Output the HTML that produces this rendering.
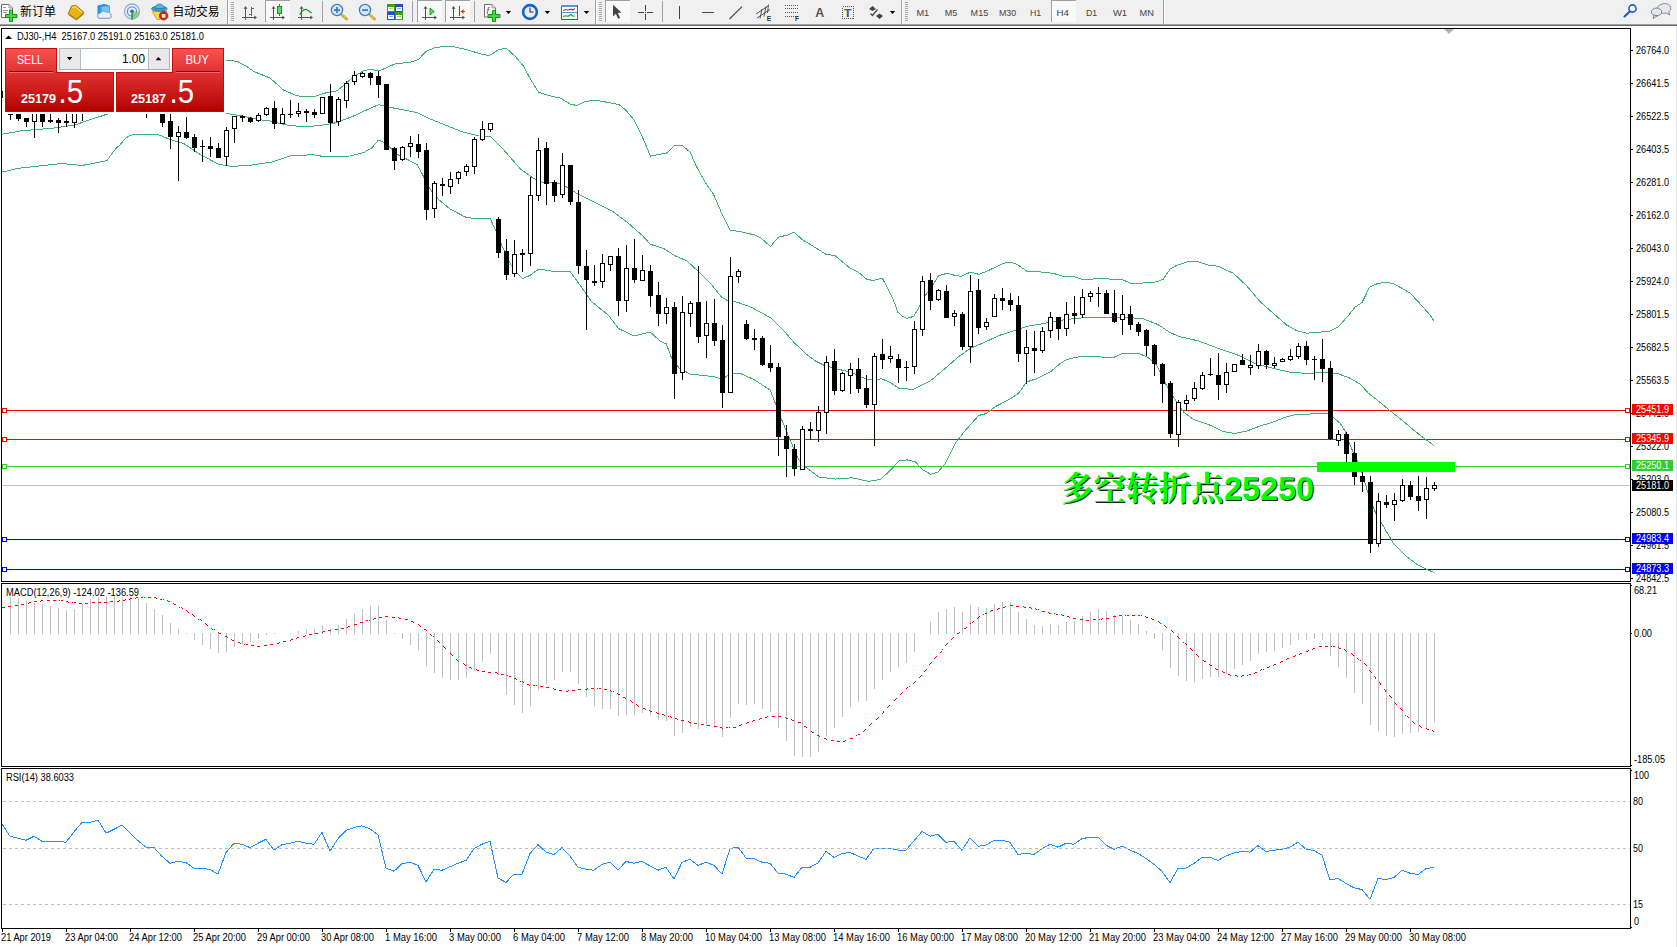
<!DOCTYPE html><html><head><meta charset="utf-8"><title>DJ30-,H4</title>
<style>html,body{margin:0;padding:0;background:#fff;overflow:hidden}svg{display:block}text{font-family:"Liberation Sans","Noto Sans CJK SC",sans-serif;}</style></head><body>
<svg width="1677" height="947" viewBox="0 0 1677 947">
<rect width="1677" height="947" fill="#fff"/>
<g shape-rendering="crispEdges">
<rect x="0" y="0" width="1677" height="24" fill="#f0f0f0"/>
<rect x="0" y="24" width="1677" height="1" fill="#a0a0a0"/>
<rect x="0" y="25" width="1677" height="1" fill="#696969"/>
<rect x="1676" y="26" width="1" height="921" fill="#e3e3e3"/>
<rect x="2" y="485" width="1628" height="1" fill="#c0c0c0"/>
<rect x="2" y="410" width="1628" height="1" fill="#ff0000"/>
<rect x="2.5" y="408.5" width="4" height="4" fill="#fff" stroke="#ff0000" stroke-width="1"/>
<rect x="1625.5" y="408.5" width="4" height="4" fill="#fff" stroke="#ff0000" stroke-width="1"/>
<rect x="2" y="439" width="1628" height="1" fill="#ff0000"/>
<rect x="2.5" y="437.5" width="4" height="4" fill="#fff" stroke="#ff0000" stroke-width="1"/>
<rect x="1625.5" y="437.5" width="4" height="4" fill="#fff" stroke="#ff0000" stroke-width="1"/>
<rect x="2" y="466" width="1628" height="1" fill="#32cd32"/>
<rect x="2.5" y="464.5" width="4" height="4" fill="#fff" stroke="#32cd32" stroke-width="1"/>
<rect x="1625.5" y="464.5" width="4" height="4" fill="#fff" stroke="#32cd32" stroke-width="1"/>
<rect x="2" y="539" width="1628" height="1" fill="#0000ff"/>
<rect x="2.5" y="537.5" width="4" height="4" fill="#fff" stroke="#0000ff" stroke-width="1"/>
<rect x="1625.5" y="537.5" width="4" height="4" fill="#fff" stroke="#0000ff" stroke-width="1"/>
<rect x="2" y="569" width="1628" height="1" fill="#0000ff"/>
<rect x="2.5" y="567.5" width="4" height="4" fill="#fff" stroke="#0000ff" stroke-width="1"/>
<rect x="1625.5" y="567.5" width="4" height="4" fill="#fff" stroke="#0000ff" stroke-width="1"/>
</g>
<g shape-rendering="crispEdges">
<clipPath id="cm"><rect x="2" y="29" width="1628" height="552"/></clipPath>
<g clip-path="url(#cm)">
<polyline points="226.0,60.0 232.0,60.5 238.0,61.8 246.0,66.0 254.0,71.6 262.0,74.8 270.0,78.0 283.4,90.0 297.5,95.9 313.4,97.0 323.4,93.4 336.8,90.9 345.0,84.2 353.5,76.7 363.5,70.9 370.0,69.2 378.5,70.9 380.0,70.6 395.0,63.9 410.0,62.2 418.4,59.7 425.9,51.4 435.1,47.7 446.8,46.0 453.5,46.7 466.8,49.7 481.9,54.2 489.4,55.6 498.6,49.7 506.1,48.0 515.3,56.4 523.6,66.4 530.3,78.9 538.6,92.3 547.0,95.1 560.3,98.1 570.3,104.0 577.0,105.6 585.4,101.5 595.4,100.1 607.1,102.3 618.8,104.5 625.5,109.8 633.8,119.8 642.2,136.5 650.5,156.2 660.0,154.1 666.3,153.4 674.6,145.4 682.0,145.4 690.1,152.0 696.5,166.6 705.3,182.4 713.6,194.5 721.8,213.5 730.0,230.2 739.5,231.5 754.8,235.0 761.1,238.2 770.6,246.4 778.2,237.3 787.7,235.0 794.0,232.2 802.9,240.1 811.9,245.5 826.3,254.5 834.6,255.4 850.1,268.2 857.3,271.5 866.8,279.2 872.8,280.5 882.3,278.1 888.3,289.7 893.1,299.2 897.9,312.3 902.6,316.5 906.8,318.5 914.0,316.2 919.3,306.4 925.3,295.6 932.5,285.5 938.4,275.9 946.8,273.3 953.9,275.1 961.1,276.3 970.6,272.1 979.0,274.4 990.2,269.7 1003.5,263.3 1010.2,262.0 1016.9,264.2 1026.9,271.2 1038.6,271.7 1053.6,273.4 1065.3,277.0 1073.7,276.4 1082.0,279.5 1100.4,278.7 1122.1,279.5 1130.4,283.1 1142.1,283.1 1155.5,282.0 1160.0,280.6 1163.3,279.2 1170.0,269.2 1176.7,265.4 1186.7,262.0 1196.7,261.4 1208.4,265.0 1218.4,266.4 1233.5,273.4 1246.8,285.9 1260.2,301.8 1273.5,313.5 1286.9,325.2 1296.9,330.7 1306.9,333.2 1318.6,332.3 1330.3,331.0 1338.7,326.5 1348.7,315.1 1355.4,306.8 1362.0,302.6 1369.5,287.3 1377.1,283.7 1385.4,282.2 1393.8,283.7 1402.1,288.4 1410.5,293.4 1420.5,304.3 1428.8,313.5 1433.8,320.6" fill="none" stroke="#3cb371" stroke-width="1"/>
<polyline points="2.1,134.2 21.5,130.8 53.7,128.1 75.1,124.9 85.9,121.1 107.3,114.1 130.0,108.0 160.0,106.0 190.0,108.0 210.0,111.0 226.0,113.4 242.0,116.0 260.0,119.8 270.0,121.0 286.7,125.0 303.4,126.8 320.0,125.6 336.8,122.6 353.5,116.0 370.0,108.4 378.5,104.7 387.0,106.7 403.6,110.0 417.0,112.6 428.6,118.4 445.3,125.0 462.0,131.8 478.7,136.0 490.4,136.2 503.8,150.0 520.5,169.0 533.8,178.6 543.8,182.9 553.6,182.6 562.0,184.3 577.0,193.4 595.3,202.6 612.0,211.0 628.7,223.5 636.0,230.0 642.0,235.2 650.3,244.3 663.5,248.4 675.2,255.9 686.9,260.9 696.9,270.1 711.9,285.1 721.9,297.6 727.8,300.6 737.0,302.1 752.0,307.6 770.4,317.7 783.2,330.1 794.5,343.0 806.2,353.9 815.3,360.9 823.6,365.1 837.0,369.0 852.0,372.3 860.4,376.8 868.7,379.8 882.0,378.9 890.4,382.6 898.8,388.3 913.6,389.4 930.0,381.1 945.1,368.5 958.4,356.9 970.1,348.5 983.5,342.7 1000.2,335.1 1016.9,329.8 1026.9,326.3 1041.9,323.8 1058.6,320.6 1075.3,318.4 1092.0,317.3 1108.7,317.3 1125.4,317.6 1142.1,318.4 1155.5,323.5 1160.0,325.8 1170.0,332.5 1180.0,336.7 1198.4,340.9 1218.4,348.4 1240.1,355.9 1256.8,364.2 1273.5,368.4 1290.2,372.3 1306.9,373.4 1327.0,372.3 1337.0,373.4 1348.7,377.6 1360.4,384.3 1368.7,393.5 1380.4,402.7 1390.4,411.0 1402.1,420.2 1413.8,430.2 1425.5,439.4 1433.8,445.4" fill="none" stroke="#3cb371" stroke-width="1"/>
<polyline points="2.5,172.0 17.0,168.5 62.0,163.5 82.0,165.5 107.0,160.7 113.0,152.0 117.0,147.5 120.2,144.7 124.5,139.3 128.8,136.1 134.2,134.2 155.6,134.2 161.0,135.6 169.6,139.3 183.7,143.5 200.0,154.3 218.7,164.4 232.0,166.4 250.5,165.2 267.0,162.7 270.0,162.7 280.0,159.3 291.7,155.5 313.4,154.8 323.4,156.5 350.0,156.0 363.5,152.7 371.9,147.7 378.5,140.1 385.2,142.7 397.0,154.3 407.0,159.3 417.0,164.4 422.0,173.5 428.5,187.0 438.4,199.3 450.0,209.0 465.0,216.9 471.8,218.2 490.0,218.2 496.0,231.0 501.8,245.2 510.2,263.6 517.7,273.6 522.7,278.6 530.2,275.3 538.6,269.1 552.0,271.1 570.3,272.0 575.3,278.6 580.0,285.1 591.7,301.8 608.4,315.2 618.4,328.5 634.3,336.0 650.1,331.9 660.2,341.2 666.3,343.9 671.8,358.5 679.2,368.1 690.1,374.0 706.0,375.8 715.3,377.0 721.5,379.5 727.7,375.6 733.5,373.1 740.1,373.4 753.5,379.3 770.2,390.1 776.0,405.1 781.9,420.2 790.2,440.2 798.6,459.4 805.3,466.9 818.6,476.9 835.3,479.1 852.0,477.8 868.7,481.4 880.4,479.4 890.4,470.3 898.8,461.1 907.1,459.9 915.5,461.9 922.1,469.4 931.0,474.4 938.0,471.9 945.6,463.0 955.7,442.7 964.6,431.3 978.5,415.5 986.2,413.6 995.7,406.4 1010.2,399.0 1018.5,393.3 1026.7,381.9 1036.9,378.6 1050.3,371.9 1060.3,363.5 1067.0,359.4 1080.3,356.4 1097.0,356.9 1113.7,357.4 1122.1,353.5 1138.8,353.5 1147.1,356.9 1155.5,363.5 1162.1,375.2 1165.0,382.6 1170.0,391.8 1176.7,401.8 1183.4,411.8 1193.4,419.4 1210.1,425.2 1223.4,431.5 1235.1,433.5 1246.8,431.0 1260.2,426.0 1273.5,421.9 1285.2,417.2 1296.9,414.3 1310.3,414.0 1327.0,413.2 1333.6,417.7 1340.3,423.5 1345.0,431.0 1350.0,445.0 1356.8,460.0 1362.6,474.2 1367.6,491.8 1375.1,511.8 1381.8,523.5 1393.5,543.5 1406.9,556.9 1416.9,564.4 1426.9,569.4 1433.6,572.3" fill="none" stroke="#3cb371" stroke-width="1"/>
</g></g>
<g shape-rendering="crispEdges">
<rect x="2" y="91" width="1" height="7" fill="#000"/>
<rect x="10" y="114" width="1" height="6" fill="#000"/>
<rect x="8" y="114" width="5" height="1" fill="#000"/>
<rect x="18" y="104" width="1" height="17" fill="#000"/>
<rect x="16" y="106" width="5" height="13" fill="#000"/>
<rect x="26" y="118" width="1" height="9" fill="#000"/>
<rect x="24" y="118" width="5" height="4" fill="#000"/>
<rect x="34" y="104" width="1" height="34" fill="#000"/>
<rect x="32" y="106" width="5" height="16" fill="#000"/>
<rect x="33" y="107" width="3" height="14" fill="#fff"/>
<rect x="42" y="104" width="1" height="23" fill="#000"/>
<rect x="40" y="106" width="5" height="16" fill="#000"/>
<rect x="50" y="108" width="1" height="15" fill="#000"/>
<rect x="48" y="120" width="5" height="2" fill="#000"/>
<rect x="58" y="118" width="1" height="15" fill="#000"/>
<rect x="56" y="120" width="5" height="3" fill="#000"/>
<rect x="66" y="108" width="1" height="19" fill="#000"/>
<rect x="64" y="121" width="5" height="2" fill="#000"/>
<rect x="74" y="104" width="1" height="24" fill="#000"/>
<rect x="72" y="106" width="5" height="17" fill="#000"/>
<rect x="73" y="107" width="3" height="15" fill="#fff"/>
<rect x="82" y="100" width="1" height="21" fill="#000"/>
<rect x="80" y="100" width="5" height="8" fill="#000"/>
<rect x="81" y="101" width="3" height="6" fill="#fff"/>
<rect x="146" y="105" width="1" height="13" fill="#000"/>
<rect x="144" y="106" width="5" height="1" fill="#000"/>
<rect x="162" y="100" width="1" height="27" fill="#000"/>
<rect x="160" y="105" width="5" height="18" fill="#000"/>
<rect x="170" y="105" width="1" height="44" fill="#000"/>
<rect x="168" y="121" width="5" height="16" fill="#000"/>
<rect x="178" y="126" width="1" height="55" fill="#000"/>
<rect x="176" y="132" width="5" height="5" fill="#000"/>
<rect x="177" y="133" width="3" height="3" fill="#fff"/>
<rect x="186" y="117" width="1" height="22" fill="#000"/>
<rect x="184" y="132" width="5" height="6" fill="#000"/>
<rect x="194" y="134" width="1" height="18" fill="#000"/>
<rect x="192" y="137" width="5" height="11" fill="#000"/>
<rect x="202" y="140" width="1" height="22" fill="#000"/>
<rect x="200" y="146" width="5" height="1" fill="#000"/>
<rect x="210" y="137" width="1" height="20" fill="#000"/>
<rect x="208" y="146" width="5" height="3" fill="#000"/>
<rect x="218" y="143" width="1" height="15" fill="#000"/>
<rect x="216" y="148" width="5" height="10" fill="#000"/>
<rect x="226" y="127" width="1" height="39" fill="#000"/>
<rect x="224" y="130" width="5" height="27" fill="#000"/>
<rect x="225" y="131" width="3" height="25" fill="#fff"/>
<rect x="234" y="116" width="1" height="27" fill="#000"/>
<rect x="232" y="116" width="5" height="13" fill="#000"/>
<rect x="233" y="117" width="3" height="11" fill="#fff"/>
<rect x="242" y="115" width="1" height="7" fill="#000"/>
<rect x="240" y="116" width="5" height="2" fill="#000"/>
<rect x="250" y="117" width="1" height="6" fill="#000"/>
<rect x="248" y="118" width="5" height="4" fill="#000"/>
<rect x="258" y="113" width="1" height="9" fill="#000"/>
<rect x="256" y="115" width="5" height="6" fill="#000"/>
<rect x="257" y="116" width="3" height="4" fill="#fff"/>
<rect x="266" y="107" width="1" height="9" fill="#000"/>
<rect x="264" y="108" width="5" height="7" fill="#000"/>
<rect x="265" y="109" width="3" height="5" fill="#fff"/>
<rect x="274" y="101" width="1" height="28" fill="#000"/>
<rect x="272" y="108" width="5" height="16" fill="#000"/>
<rect x="282" y="108" width="1" height="16" fill="#000"/>
<rect x="280" y="114" width="5" height="10" fill="#000"/>
<rect x="281" y="115" width="3" height="8" fill="#fff"/>
<rect x="290" y="100" width="1" height="18" fill="#000"/>
<rect x="288" y="114" width="5" height="1" fill="#000"/>
<rect x="298" y="103" width="1" height="14" fill="#000"/>
<rect x="296" y="111" width="5" height="3" fill="#000"/>
<rect x="297" y="112" width="3" height="1" fill="#fff"/>
<rect x="306" y="109" width="1" height="13" fill="#000"/>
<rect x="304" y="111" width="5" height="2" fill="#000"/>
<rect x="314" y="109" width="1" height="9" fill="#000"/>
<rect x="312" y="112" width="5" height="3" fill="#000"/>
<rect x="322" y="97" width="1" height="17" fill="#000"/>
<rect x="320" y="97" width="5" height="17" fill="#000"/>
<rect x="321" y="98" width="3" height="15" fill="#fff"/>
<rect x="330" y="84" width="1" height="68" fill="#000"/>
<rect x="328" y="96" width="5" height="27" fill="#000"/>
<rect x="338" y="97" width="1" height="29" fill="#000"/>
<rect x="336" y="99" width="5" height="23" fill="#000"/>
<rect x="337" y="100" width="3" height="21" fill="#fff"/>
<rect x="346" y="81" width="1" height="27" fill="#000"/>
<rect x="344" y="83" width="5" height="18" fill="#000"/>
<rect x="345" y="84" width="3" height="16" fill="#fff"/>
<rect x="354" y="71" width="1" height="14" fill="#000"/>
<rect x="352" y="75" width="5" height="7" fill="#000"/>
<rect x="353" y="76" width="3" height="5" fill="#fff"/>
<rect x="362" y="72" width="1" height="6" fill="#000"/>
<rect x="360" y="73" width="5" height="4" fill="#000"/>
<rect x="361" y="74" width="3" height="2" fill="#fff"/>
<rect x="370" y="72" width="1" height="13" fill="#000"/>
<rect x="368" y="73" width="5" height="5" fill="#000"/>
<rect x="378" y="71" width="1" height="27" fill="#000"/>
<rect x="376" y="76" width="5" height="9" fill="#000"/>
<rect x="386" y="84" width="1" height="66" fill="#000"/>
<rect x="384" y="84" width="5" height="66" fill="#000"/>
<rect x="394" y="147" width="1" height="23" fill="#000"/>
<rect x="392" y="148" width="5" height="13" fill="#000"/>
<rect x="402" y="146" width="1" height="15" fill="#000"/>
<rect x="400" y="147" width="5" height="13" fill="#000"/>
<rect x="401" y="148" width="3" height="11" fill="#fff"/>
<rect x="410" y="136" width="1" height="21" fill="#000"/>
<rect x="408" y="143" width="5" height="4" fill="#000"/>
<rect x="409" y="144" width="3" height="2" fill="#fff"/>
<rect x="418" y="134" width="1" height="24" fill="#000"/>
<rect x="416" y="144" width="5" height="8" fill="#000"/>
<rect x="426" y="143" width="1" height="77" fill="#000"/>
<rect x="424" y="150" width="5" height="60" fill="#000"/>
<rect x="434" y="181" width="1" height="37" fill="#000"/>
<rect x="432" y="183" width="5" height="26" fill="#000"/>
<rect x="433" y="184" width="3" height="24" fill="#fff"/>
<rect x="442" y="178" width="1" height="18" fill="#000"/>
<rect x="440" y="184" width="5" height="2" fill="#000"/>
<rect x="450" y="172" width="1" height="22" fill="#000"/>
<rect x="448" y="179" width="5" height="8" fill="#000"/>
<rect x="449" y="180" width="3" height="6" fill="#fff"/>
<rect x="458" y="171" width="1" height="13" fill="#000"/>
<rect x="456" y="172" width="5" height="7" fill="#000"/>
<rect x="457" y="173" width="3" height="5" fill="#fff"/>
<rect x="466" y="164" width="1" height="12" fill="#000"/>
<rect x="464" y="166" width="5" height="6" fill="#000"/>
<rect x="465" y="167" width="3" height="4" fill="#fff"/>
<rect x="474" y="137" width="1" height="37" fill="#000"/>
<rect x="472" y="139" width="5" height="28" fill="#000"/>
<rect x="473" y="140" width="3" height="26" fill="#fff"/>
<rect x="482" y="121" width="1" height="20" fill="#000"/>
<rect x="480" y="129" width="5" height="11" fill="#000"/>
<rect x="481" y="130" width="3" height="9" fill="#fff"/>
<rect x="490" y="123" width="1" height="9" fill="#000"/>
<rect x="488" y="123" width="5" height="7" fill="#000"/>
<rect x="489" y="124" width="3" height="5" fill="#fff"/>
<rect x="498" y="217" width="1" height="41" fill="#000"/>
<rect x="496" y="219" width="5" height="34" fill="#000"/>
<rect x="506" y="239" width="1" height="41" fill="#000"/>
<rect x="504" y="251" width="5" height="24" fill="#000"/>
<rect x="514" y="240" width="1" height="37" fill="#000"/>
<rect x="512" y="254" width="5" height="20" fill="#000"/>
<rect x="513" y="255" width="3" height="18" fill="#fff"/>
<rect x="522" y="249" width="1" height="23" fill="#000"/>
<rect x="520" y="253" width="5" height="2" fill="#000"/>
<rect x="530" y="177" width="1" height="89" fill="#000"/>
<rect x="528" y="195" width="5" height="59" fill="#000"/>
<rect x="529" y="196" width="3" height="57" fill="#fff"/>
<rect x="538" y="138" width="1" height="63" fill="#000"/>
<rect x="536" y="150" width="5" height="46" fill="#000"/>
<rect x="537" y="151" width="3" height="44" fill="#fff"/>
<rect x="546" y="142" width="1" height="63" fill="#000"/>
<rect x="544" y="148" width="5" height="36" fill="#000"/>
<rect x="554" y="180" width="1" height="22" fill="#000"/>
<rect x="552" y="182" width="5" height="14" fill="#000"/>
<rect x="562" y="153" width="1" height="45" fill="#000"/>
<rect x="560" y="165" width="5" height="30" fill="#000"/>
<rect x="561" y="166" width="3" height="28" fill="#fff"/>
<rect x="570" y="165" width="1" height="40" fill="#000"/>
<rect x="568" y="165" width="5" height="37" fill="#000"/>
<rect x="578" y="190" width="1" height="84" fill="#000"/>
<rect x="576" y="202" width="5" height="64" fill="#000"/>
<rect x="586" y="250" width="1" height="80" fill="#000"/>
<rect x="584" y="266" width="5" height="14" fill="#000"/>
<rect x="594" y="265" width="1" height="21" fill="#000"/>
<rect x="592" y="281" width="5" height="2" fill="#000"/>
<rect x="602" y="254" width="1" height="34" fill="#000"/>
<rect x="600" y="263" width="5" height="19" fill="#000"/>
<rect x="601" y="264" width="3" height="17" fill="#fff"/>
<rect x="610" y="256" width="1" height="15" fill="#000"/>
<rect x="608" y="256" width="5" height="9" fill="#000"/>
<rect x="609" y="257" width="3" height="7" fill="#fff"/>
<rect x="618" y="248" width="1" height="68" fill="#000"/>
<rect x="616" y="256" width="5" height="45" fill="#000"/>
<rect x="626" y="245" width="1" height="67" fill="#000"/>
<rect x="624" y="268" width="5" height="33" fill="#000"/>
<rect x="625" y="269" width="3" height="31" fill="#fff"/>
<rect x="634" y="239" width="1" height="44" fill="#000"/>
<rect x="632" y="268" width="5" height="12" fill="#000"/>
<rect x="642" y="255" width="1" height="26" fill="#000"/>
<rect x="640" y="270" width="5" height="11" fill="#000"/>
<rect x="641" y="271" width="3" height="9" fill="#fff"/>
<rect x="650" y="265" width="1" height="42" fill="#000"/>
<rect x="648" y="271" width="5" height="25" fill="#000"/>
<rect x="658" y="282" width="1" height="44" fill="#000"/>
<rect x="656" y="295" width="5" height="19" fill="#000"/>
<rect x="666" y="298" width="1" height="26" fill="#000"/>
<rect x="664" y="307" width="5" height="7" fill="#000"/>
<rect x="665" y="308" width="3" height="5" fill="#fff"/>
<rect x="674" y="302" width="1" height="97" fill="#000"/>
<rect x="672" y="307" width="5" height="67" fill="#000"/>
<rect x="682" y="296" width="1" height="84" fill="#000"/>
<rect x="680" y="312" width="5" height="61" fill="#000"/>
<rect x="681" y="313" width="3" height="59" fill="#fff"/>
<rect x="690" y="301" width="1" height="26" fill="#000"/>
<rect x="688" y="303" width="5" height="11" fill="#000"/>
<rect x="689" y="304" width="3" height="9" fill="#fff"/>
<rect x="698" y="266" width="1" height="77" fill="#000"/>
<rect x="696" y="302" width="5" height="35" fill="#000"/>
<rect x="706" y="301" width="1" height="57" fill="#000"/>
<rect x="704" y="323" width="5" height="13" fill="#000"/>
<rect x="705" y="324" width="3" height="11" fill="#fff"/>
<rect x="714" y="299" width="1" height="47" fill="#000"/>
<rect x="712" y="323" width="5" height="18" fill="#000"/>
<rect x="722" y="325" width="1" height="83" fill="#000"/>
<rect x="720" y="340" width="5" height="53" fill="#000"/>
<rect x="730" y="257" width="1" height="136" fill="#000"/>
<rect x="728" y="276" width="5" height="117" fill="#000"/>
<rect x="729" y="277" width="3" height="115" fill="#fff"/>
<rect x="738" y="269" width="1" height="14" fill="#000"/>
<rect x="736" y="271" width="5" height="6" fill="#000"/>
<rect x="737" y="272" width="3" height="4" fill="#fff"/>
<rect x="746" y="320" width="1" height="20" fill="#000"/>
<rect x="744" y="324" width="5" height="15" fill="#000"/>
<rect x="754" y="329" width="1" height="21" fill="#000"/>
<rect x="752" y="338" width="5" height="2" fill="#000"/>
<rect x="762" y="336" width="1" height="30" fill="#000"/>
<rect x="760" y="338" width="5" height="27" fill="#000"/>
<rect x="770" y="345" width="1" height="27" fill="#000"/>
<rect x="768" y="363" width="5" height="5" fill="#000"/>
<rect x="778" y="363" width="1" height="93" fill="#000"/>
<rect x="776" y="367" width="5" height="70" fill="#000"/>
<rect x="786" y="425" width="1" height="52" fill="#000"/>
<rect x="784" y="436" width="5" height="13" fill="#000"/>
<rect x="794" y="444" width="1" height="32" fill="#000"/>
<rect x="792" y="449" width="5" height="20" fill="#000"/>
<rect x="802" y="426" width="1" height="44" fill="#000"/>
<rect x="800" y="429" width="5" height="41" fill="#000"/>
<rect x="801" y="430" width="3" height="39" fill="#fff"/>
<rect x="810" y="422" width="1" height="18" fill="#000"/>
<rect x="808" y="429" width="5" height="2" fill="#000"/>
<rect x="818" y="406" width="1" height="36" fill="#000"/>
<rect x="816" y="412" width="5" height="19" fill="#000"/>
<rect x="817" y="413" width="3" height="17" fill="#fff"/>
<rect x="826" y="356" width="1" height="78" fill="#000"/>
<rect x="824" y="362" width="5" height="51" fill="#000"/>
<rect x="825" y="363" width="3" height="49" fill="#fff"/>
<rect x="834" y="349" width="1" height="46" fill="#000"/>
<rect x="832" y="361" width="5" height="30" fill="#000"/>
<rect x="842" y="372" width="1" height="20" fill="#000"/>
<rect x="840" y="373" width="5" height="18" fill="#000"/>
<rect x="841" y="374" width="3" height="16" fill="#fff"/>
<rect x="850" y="363" width="1" height="31" fill="#000"/>
<rect x="848" y="369" width="5" height="7" fill="#000"/>
<rect x="849" y="370" width="3" height="5" fill="#fff"/>
<rect x="858" y="358" width="1" height="35" fill="#000"/>
<rect x="856" y="369" width="5" height="20" fill="#000"/>
<rect x="866" y="375" width="1" height="33" fill="#000"/>
<rect x="864" y="388" width="5" height="17" fill="#000"/>
<rect x="874" y="353" width="1" height="93" fill="#000"/>
<rect x="872" y="356" width="5" height="49" fill="#000"/>
<rect x="873" y="357" width="3" height="47" fill="#fff"/>
<rect x="882" y="339" width="1" height="30" fill="#000"/>
<rect x="880" y="354" width="5" height="6" fill="#000"/>
<rect x="890" y="346" width="1" height="17" fill="#000"/>
<rect x="888" y="356" width="5" height="3" fill="#000"/>
<rect x="889" y="357" width="3" height="1" fill="#fff"/>
<rect x="898" y="354" width="1" height="29" fill="#000"/>
<rect x="896" y="359" width="5" height="9" fill="#000"/>
<rect x="906" y="361" width="1" height="20" fill="#000"/>
<rect x="904" y="367" width="5" height="1" fill="#000"/>
<rect x="914" y="321" width="1" height="53" fill="#000"/>
<rect x="912" y="329" width="5" height="38" fill="#000"/>
<rect x="913" y="330" width="3" height="36" fill="#fff"/>
<rect x="922" y="276" width="1" height="60" fill="#000"/>
<rect x="920" y="281" width="5" height="49" fill="#000"/>
<rect x="921" y="282" width="3" height="47" fill="#fff"/>
<rect x="930" y="273" width="1" height="37" fill="#000"/>
<rect x="928" y="280" width="5" height="21" fill="#000"/>
<rect x="938" y="289" width="1" height="12" fill="#000"/>
<rect x="936" y="290" width="5" height="10" fill="#000"/>
<rect x="937" y="291" width="3" height="8" fill="#fff"/>
<rect x="946" y="285" width="1" height="33" fill="#000"/>
<rect x="944" y="291" width="5" height="27" fill="#000"/>
<rect x="954" y="310" width="1" height="16" fill="#000"/>
<rect x="952" y="313" width="5" height="4" fill="#000"/>
<rect x="953" y="314" width="3" height="2" fill="#fff"/>
<rect x="962" y="312" width="1" height="38" fill="#000"/>
<rect x="960" y="314" width="5" height="33" fill="#000"/>
<rect x="970" y="275" width="1" height="88" fill="#000"/>
<rect x="968" y="291" width="5" height="56" fill="#000"/>
<rect x="969" y="292" width="3" height="54" fill="#fff"/>
<rect x="978" y="279" width="1" height="55" fill="#000"/>
<rect x="976" y="290" width="5" height="38" fill="#000"/>
<rect x="986" y="318" width="1" height="12" fill="#000"/>
<rect x="984" y="322" width="5" height="5" fill="#000"/>
<rect x="985" y="323" width="3" height="3" fill="#fff"/>
<rect x="994" y="294" width="1" height="23" fill="#000"/>
<rect x="992" y="298" width="5" height="19" fill="#000"/>
<rect x="993" y="299" width="3" height="17" fill="#fff"/>
<rect x="1002" y="288" width="1" height="22" fill="#000"/>
<rect x="1000" y="298" width="5" height="3" fill="#000"/>
<rect x="1010" y="293" width="1" height="18" fill="#000"/>
<rect x="1008" y="300" width="5" height="5" fill="#000"/>
<rect x="1018" y="296" width="1" height="66" fill="#000"/>
<rect x="1016" y="305" width="5" height="49" fill="#000"/>
<rect x="1026" y="330" width="1" height="54" fill="#000"/>
<rect x="1024" y="347" width="5" height="7" fill="#000"/>
<rect x="1025" y="348" width="3" height="5" fill="#fff"/>
<rect x="1034" y="331" width="1" height="42" fill="#000"/>
<rect x="1032" y="348" width="5" height="3" fill="#000"/>
<rect x="1042" y="327" width="1" height="26" fill="#000"/>
<rect x="1040" y="331" width="5" height="20" fill="#000"/>
<rect x="1041" y="332" width="3" height="18" fill="#fff"/>
<rect x="1050" y="312" width="1" height="26" fill="#000"/>
<rect x="1048" y="317" width="5" height="14" fill="#000"/>
<rect x="1049" y="318" width="3" height="12" fill="#fff"/>
<rect x="1058" y="317" width="1" height="23" fill="#000"/>
<rect x="1056" y="317" width="5" height="12" fill="#000"/>
<rect x="1066" y="302" width="1" height="34" fill="#000"/>
<rect x="1064" y="314" width="5" height="15" fill="#000"/>
<rect x="1065" y="315" width="3" height="13" fill="#fff"/>
<rect x="1074" y="296" width="1" height="28" fill="#000"/>
<rect x="1072" y="313" width="5" height="3" fill="#000"/>
<rect x="1082" y="289" width="1" height="29" fill="#000"/>
<rect x="1080" y="297" width="5" height="18" fill="#000"/>
<rect x="1081" y="298" width="3" height="16" fill="#fff"/>
<rect x="1090" y="291" width="1" height="11" fill="#000"/>
<rect x="1088" y="293" width="5" height="4" fill="#000"/>
<rect x="1089" y="294" width="3" height="2" fill="#fff"/>
<rect x="1098" y="287" width="1" height="20" fill="#000"/>
<rect x="1096" y="293" width="5" height="1" fill="#000"/>
<rect x="1106" y="290" width="1" height="24" fill="#000"/>
<rect x="1104" y="293" width="5" height="21" fill="#000"/>
<rect x="1114" y="290" width="1" height="33" fill="#000"/>
<rect x="1112" y="313" width="5" height="9" fill="#000"/>
<rect x="1122" y="295" width="1" height="40" fill="#000"/>
<rect x="1120" y="314" width="5" height="6" fill="#000"/>
<rect x="1121" y="315" width="3" height="4" fill="#fff"/>
<rect x="1130" y="306" width="1" height="24" fill="#000"/>
<rect x="1128" y="314" width="5" height="11" fill="#000"/>
<rect x="1138" y="322" width="1" height="14" fill="#000"/>
<rect x="1136" y="324" width="5" height="8" fill="#000"/>
<rect x="1146" y="329" width="1" height="27" fill="#000"/>
<rect x="1144" y="330" width="5" height="16" fill="#000"/>
<rect x="1154" y="344" width="1" height="32" fill="#000"/>
<rect x="1152" y="345" width="5" height="19" fill="#000"/>
<rect x="1162" y="363" width="1" height="40" fill="#000"/>
<rect x="1160" y="364" width="5" height="20" fill="#000"/>
<rect x="1170" y="381" width="1" height="57" fill="#000"/>
<rect x="1168" y="383" width="5" height="51" fill="#000"/>
<rect x="1178" y="400" width="1" height="47" fill="#000"/>
<rect x="1176" y="402" width="5" height="33" fill="#000"/>
<rect x="1177" y="403" width="3" height="31" fill="#fff"/>
<rect x="1186" y="395" width="1" height="16" fill="#000"/>
<rect x="1184" y="400" width="5" height="4" fill="#000"/>
<rect x="1185" y="401" width="3" height="2" fill="#fff"/>
<rect x="1194" y="382" width="1" height="19" fill="#000"/>
<rect x="1192" y="388" width="5" height="11" fill="#000"/>
<rect x="1193" y="389" width="3" height="9" fill="#fff"/>
<rect x="1202" y="372" width="1" height="18" fill="#000"/>
<rect x="1200" y="375" width="5" height="14" fill="#000"/>
<rect x="1201" y="376" width="3" height="12" fill="#fff"/>
<rect x="1210" y="358" width="1" height="18" fill="#000"/>
<rect x="1208" y="374" width="5" height="1" fill="#000"/>
<rect x="1218" y="353" width="1" height="47" fill="#000"/>
<rect x="1216" y="375" width="5" height="10" fill="#000"/>
<rect x="1226" y="363" width="1" height="30" fill="#000"/>
<rect x="1224" y="372" width="5" height="13" fill="#000"/>
<rect x="1225" y="373" width="3" height="11" fill="#fff"/>
<rect x="1234" y="364" width="1" height="8" fill="#000"/>
<rect x="1232" y="364" width="5" height="8" fill="#000"/>
<rect x="1233" y="365" width="3" height="6" fill="#fff"/>
<rect x="1242" y="354" width="1" height="11" fill="#000"/>
<rect x="1240" y="360" width="5" height="5" fill="#000"/>
<rect x="1250" y="355" width="1" height="20" fill="#000"/>
<rect x="1248" y="365" width="5" height="3" fill="#000"/>
<rect x="1249" y="366" width="3" height="1" fill="#fff"/>
<rect x="1258" y="344" width="1" height="25" fill="#000"/>
<rect x="1256" y="351" width="5" height="15" fill="#000"/>
<rect x="1257" y="352" width="3" height="13" fill="#fff"/>
<rect x="1266" y="350" width="1" height="19" fill="#000"/>
<rect x="1264" y="351" width="5" height="14" fill="#000"/>
<rect x="1274" y="357" width="1" height="11" fill="#000"/>
<rect x="1272" y="363" width="5" height="3" fill="#000"/>
<rect x="1273" y="364" width="3" height="1" fill="#fff"/>
<rect x="1282" y="358" width="1" height="4" fill="#000"/>
<rect x="1280" y="359" width="5" height="3" fill="#000"/>
<rect x="1281" y="360" width="3" height="1" fill="#fff"/>
<rect x="1290" y="349" width="1" height="12" fill="#000"/>
<rect x="1288" y="356" width="5" height="4" fill="#000"/>
<rect x="1289" y="357" width="3" height="2" fill="#fff"/>
<rect x="1298" y="343" width="1" height="16" fill="#000"/>
<rect x="1296" y="346" width="5" height="11" fill="#000"/>
<rect x="1297" y="347" width="3" height="9" fill="#fff"/>
<rect x="1306" y="341" width="1" height="24" fill="#000"/>
<rect x="1304" y="346" width="5" height="14" fill="#000"/>
<rect x="1314" y="356" width="1" height="24" fill="#000"/>
<rect x="1312" y="359" width="5" height="1" fill="#000"/>
<rect x="1322" y="339" width="1" height="43" fill="#000"/>
<rect x="1320" y="359" width="5" height="10" fill="#000"/>
<rect x="1330" y="361" width="1" height="79" fill="#000"/>
<rect x="1328" y="368" width="5" height="71" fill="#000"/>
<rect x="1338" y="430" width="1" height="16" fill="#000"/>
<rect x="1336" y="434" width="5" height="7" fill="#000"/>
<rect x="1337" y="435" width="3" height="5" fill="#fff"/>
<rect x="1346" y="432" width="1" height="33" fill="#000"/>
<rect x="1344" y="434" width="5" height="20" fill="#000"/>
<rect x="1354" y="442" width="1" height="43" fill="#000"/>
<rect x="1352" y="453" width="5" height="24" fill="#000"/>
<rect x="1362" y="471" width="1" height="21" fill="#000"/>
<rect x="1360" y="476" width="5" height="6" fill="#000"/>
<rect x="1370" y="476" width="1" height="77" fill="#000"/>
<rect x="1368" y="482" width="5" height="62" fill="#000"/>
<rect x="1378" y="493" width="1" height="54" fill="#000"/>
<rect x="1376" y="501" width="5" height="43" fill="#000"/>
<rect x="1377" y="502" width="3" height="41" fill="#fff"/>
<rect x="1386" y="495" width="1" height="13" fill="#000"/>
<rect x="1384" y="502" width="5" height="3" fill="#000"/>
<rect x="1394" y="493" width="1" height="28" fill="#000"/>
<rect x="1392" y="500" width="5" height="5" fill="#000"/>
<rect x="1393" y="501" width="3" height="3" fill="#fff"/>
<rect x="1402" y="479" width="1" height="23" fill="#000"/>
<rect x="1400" y="485" width="5" height="16" fill="#000"/>
<rect x="1401" y="486" width="3" height="14" fill="#fff"/>
<rect x="1410" y="481" width="1" height="19" fill="#000"/>
<rect x="1408" y="485" width="5" height="12" fill="#000"/>
<rect x="1418" y="476" width="1" height="35" fill="#000"/>
<rect x="1416" y="496" width="5" height="5" fill="#000"/>
<rect x="1426" y="477" width="1" height="42" fill="#000"/>
<rect x="1424" y="488" width="5" height="12" fill="#000"/>
<rect x="1425" y="489" width="3" height="10" fill="#fff"/>
<rect x="1434" y="482" width="1" height="9" fill="#000"/>
<rect x="1432" y="485" width="5" height="4" fill="#000"/>
<rect x="1433" y="486" width="3" height="2" fill="#fff"/>
<rect x="1317" y="462" width="138" height="10" fill="#00ff00"/>
</g>
<rect x="2" y="29" width="224" height="85" fill="#fff" shape-rendering="crispEdges"/>
<rect x="2" y="91" width="1" height="7" fill="#000"/>
<text x="1062" y="501.2" font-size="32.5" font-weight="bold" fill="#0c240c" style="font-family:'Liberation Sans','Noto Serif CJK SC',serif" textLength="162.5" lengthAdjust="spacingAndGlyphs">多空转折点</text>
<text x="1225" y="500.5" font-size="33" font-weight="bold" fill="#0c240c" style="font-family:'Liberation Sans','Noto Serif CJK SC',serif" textLength="90" lengthAdjust="spacingAndGlyphs">25250</text>
<text x="1061" y="500.2" font-size="32.5" font-weight="bold" fill="#00ff00" style="font-family:'Liberation Sans','Noto Serif CJK SC',serif" textLength="162.5" lengthAdjust="spacingAndGlyphs">多空转折点</text>
<text x="1224" y="499.5" font-size="33" font-weight="bold" fill="#00ff00" style="font-family:'Liberation Sans','Noto Serif CJK SC',serif" textLength="90" lengthAdjust="spacingAndGlyphs">25250</text>
<g shape-rendering="crispEdges">
<rect x="10" y="597" width="1" height="37" fill="#c0c0c0"/>
<rect x="18" y="598" width="1" height="36" fill="#c0c0c0"/>
<rect x="26" y="601" width="1" height="33" fill="#c0c0c0"/>
<rect x="34" y="603" width="1" height="31" fill="#c0c0c0"/>
<rect x="42" y="604" width="1" height="30" fill="#c0c0c0"/>
<rect x="50" y="606" width="1" height="28" fill="#c0c0c0"/>
<rect x="58" y="608" width="1" height="26" fill="#c0c0c0"/>
<rect x="66" y="610" width="1" height="24" fill="#c0c0c0"/>
<rect x="74" y="609" width="1" height="25" fill="#c0c0c0"/>
<rect x="82" y="604" width="1" height="30" fill="#c0c0c0"/>
<rect x="90" y="599" width="1" height="35" fill="#c0c0c0"/>
<rect x="98" y="597" width="1" height="37" fill="#c0c0c0"/>
<rect x="106" y="596" width="1" height="38" fill="#c0c0c0"/>
<rect x="114" y="596" width="1" height="38" fill="#c0c0c0"/>
<rect x="122" y="597" width="1" height="37" fill="#c0c0c0"/>
<rect x="130" y="597" width="1" height="37" fill="#c0c0c0"/>
<rect x="138" y="598" width="1" height="36" fill="#c0c0c0"/>
<rect x="146" y="603" width="1" height="31" fill="#c0c0c0"/>
<rect x="154" y="609" width="1" height="25" fill="#c0c0c0"/>
<rect x="162" y="615" width="1" height="19" fill="#c0c0c0"/>
<rect x="170" y="623" width="1" height="11" fill="#c0c0c0"/>
<rect x="178" y="629" width="1" height="5" fill="#c0c0c0"/>
<rect x="186" y="633" width="1" height="1" fill="#c0c0c0"/>
<rect x="194" y="633" width="1" height="7" fill="#c0c0c0"/>
<rect x="202" y="633" width="1" height="12" fill="#c0c0c0"/>
<rect x="210" y="633" width="1" height="16" fill="#c0c0c0"/>
<rect x="218" y="633" width="1" height="20" fill="#c0c0c0"/>
<rect x="226" y="633" width="1" height="19" fill="#c0c0c0"/>
<rect x="234" y="633" width="1" height="14" fill="#c0c0c0"/>
<rect x="242" y="633" width="1" height="11" fill="#c0c0c0"/>
<rect x="250" y="633" width="1" height="9" fill="#c0c0c0"/>
<rect x="258" y="633" width="1" height="6" fill="#c0c0c0"/>
<rect x="266" y="633" width="1" height="2" fill="#c0c0c0"/>
<rect x="274" y="633" width="1" height="1" fill="#c0c0c0"/>
<rect x="290" y="633" width="1" height="1" fill="#c0c0c0"/>
<rect x="298" y="631" width="1" height="3" fill="#c0c0c0"/>
<rect x="306" y="630" width="1" height="4" fill="#c0c0c0"/>
<rect x="314" y="629" width="1" height="5" fill="#c0c0c0"/>
<rect x="322" y="625" width="1" height="9" fill="#c0c0c0"/>
<rect x="330" y="629" width="1" height="5" fill="#c0c0c0"/>
<rect x="338" y="625" width="1" height="9" fill="#c0c0c0"/>
<rect x="346" y="619" width="1" height="15" fill="#c0c0c0"/>
<rect x="354" y="614" width="1" height="20" fill="#c0c0c0"/>
<rect x="362" y="609" width="1" height="25" fill="#c0c0c0"/>
<rect x="370" y="606" width="1" height="28" fill="#c0c0c0"/>
<rect x="378" y="606" width="1" height="28" fill="#c0c0c0"/>
<rect x="386" y="620" width="1" height="14" fill="#c0c0c0"/>
<rect x="394" y="633" width="1" height="1" fill="#c0c0c0"/>
<rect x="402" y="633" width="1" height="6" fill="#c0c0c0"/>
<rect x="410" y="633" width="1" height="12" fill="#c0c0c0"/>
<rect x="418" y="633" width="1" height="17" fill="#c0c0c0"/>
<rect x="426" y="633" width="1" height="33" fill="#c0c0c0"/>
<rect x="434" y="633" width="1" height="40" fill="#c0c0c0"/>
<rect x="442" y="633" width="1" height="45" fill="#c0c0c0"/>
<rect x="450" y="633" width="1" height="47" fill="#c0c0c0"/>
<rect x="458" y="633" width="1" height="47" fill="#c0c0c0"/>
<rect x="466" y="633" width="1" height="45" fill="#c0c0c0"/>
<rect x="474" y="633" width="1" height="38" fill="#c0c0c0"/>
<rect x="482" y="633" width="1" height="29" fill="#c0c0c0"/>
<rect x="490" y="633" width="1" height="21" fill="#c0c0c0"/>
<rect x="498" y="633" width="1" height="42" fill="#c0c0c0"/>
<rect x="506" y="633" width="1" height="62" fill="#c0c0c0"/>
<rect x="514" y="633" width="1" height="72" fill="#c0c0c0"/>
<rect x="522" y="633" width="1" height="80" fill="#c0c0c0"/>
<rect x="530" y="633" width="1" height="73" fill="#c0c0c0"/>
<rect x="538" y="633" width="1" height="57" fill="#c0c0c0"/>
<rect x="546" y="633" width="1" height="51" fill="#c0c0c0"/>
<rect x="554" y="633" width="1" height="47" fill="#c0c0c0"/>
<rect x="562" y="633" width="1" height="39" fill="#c0c0c0"/>
<rect x="570" y="633" width="1" height="39" fill="#c0c0c0"/>
<rect x="578" y="633" width="1" height="51" fill="#c0c0c0"/>
<rect x="586" y="633" width="1" height="64" fill="#c0c0c0"/>
<rect x="594" y="633" width="1" height="73" fill="#c0c0c0"/>
<rect x="602" y="633" width="1" height="76" fill="#c0c0c0"/>
<rect x="610" y="633" width="1" height="76" fill="#c0c0c0"/>
<rect x="618" y="633" width="1" height="83" fill="#c0c0c0"/>
<rect x="626" y="633" width="1" height="82" fill="#c0c0c0"/>
<rect x="634" y="633" width="1" height="82" fill="#c0c0c0"/>
<rect x="642" y="633" width="1" height="80" fill="#c0c0c0"/>
<rect x="650" y="633" width="1" height="82" fill="#c0c0c0"/>
<rect x="658" y="633" width="1" height="87" fill="#c0c0c0"/>
<rect x="666" y="633" width="1" height="88" fill="#c0c0c0"/>
<rect x="674" y="633" width="1" height="103" fill="#c0c0c0"/>
<rect x="682" y="633" width="1" height="100" fill="#c0c0c0"/>
<rect x="690" y="633" width="1" height="94" fill="#c0c0c0"/>
<rect x="698" y="633" width="1" height="96" fill="#c0c0c0"/>
<rect x="706" y="633" width="1" height="93" fill="#c0c0c0"/>
<rect x="714" y="633" width="1" height="94" fill="#c0c0c0"/>
<rect x="722" y="633" width="1" height="104" fill="#c0c0c0"/>
<rect x="730" y="633" width="1" height="85" fill="#c0c0c0"/>
<rect x="738" y="633" width="1" height="71" fill="#c0c0c0"/>
<rect x="746" y="633" width="1" height="72" fill="#c0c0c0"/>
<rect x="754" y="633" width="1" height="71" fill="#c0c0c0"/>
<rect x="762" y="633" width="1" height="76" fill="#c0c0c0"/>
<rect x="770" y="633" width="1" height="79" fill="#c0c0c0"/>
<rect x="778" y="633" width="1" height="95" fill="#c0c0c0"/>
<rect x="786" y="633" width="1" height="108" fill="#c0c0c0"/>
<rect x="794" y="633" width="1" height="123" fill="#c0c0c0"/>
<rect x="802" y="633" width="1" height="124" fill="#c0c0c0"/>
<rect x="810" y="633" width="1" height="124" fill="#c0c0c0"/>
<rect x="818" y="633" width="1" height="119" fill="#c0c0c0"/>
<rect x="826" y="633" width="1" height="103" fill="#c0c0c0"/>
<rect x="834" y="633" width="1" height="95" fill="#c0c0c0"/>
<rect x="842" y="633" width="1" height="84" fill="#c0c0c0"/>
<rect x="850" y="633" width="1" height="74" fill="#c0c0c0"/>
<rect x="858" y="633" width="1" height="69" fill="#c0c0c0"/>
<rect x="866" y="633" width="1" height="68" fill="#c0c0c0"/>
<rect x="874" y="633" width="1" height="56" fill="#c0c0c0"/>
<rect x="882" y="633" width="1" height="47" fill="#c0c0c0"/>
<rect x="890" y="633" width="1" height="39" fill="#c0c0c0"/>
<rect x="898" y="633" width="1" height="34" fill="#c0c0c0"/>
<rect x="906" y="633" width="1" height="30" fill="#c0c0c0"/>
<rect x="914" y="633" width="1" height="19" fill="#c0c0c0"/>
<rect x="930" y="622" width="1" height="12" fill="#c0c0c0"/>
<rect x="938" y="612" width="1" height="22" fill="#c0c0c0"/>
<rect x="946" y="609" width="1" height="25" fill="#c0c0c0"/>
<rect x="954" y="607" width="1" height="27" fill="#c0c0c0"/>
<rect x="962" y="612" width="1" height="22" fill="#c0c0c0"/>
<rect x="970" y="605" width="1" height="29" fill="#c0c0c0"/>
<rect x="978" y="607" width="1" height="27" fill="#c0c0c0"/>
<rect x="986" y="608" width="1" height="26" fill="#c0c0c0"/>
<rect x="994" y="604" width="1" height="30" fill="#c0c0c0"/>
<rect x="1002" y="602" width="1" height="32" fill="#c0c0c0"/>
<rect x="1010" y="602" width="1" height="32" fill="#c0c0c0"/>
<rect x="1018" y="612" width="1" height="22" fill="#c0c0c0"/>
<rect x="1026" y="619" width="1" height="15" fill="#c0c0c0"/>
<rect x="1034" y="625" width="1" height="9" fill="#c0c0c0"/>
<rect x="1042" y="626" width="1" height="8" fill="#c0c0c0"/>
<rect x="1050" y="624" width="1" height="10" fill="#c0c0c0"/>
<rect x="1058" y="625" width="1" height="9" fill="#c0c0c0"/>
<rect x="1066" y="622" width="1" height="12" fill="#c0c0c0"/>
<rect x="1074" y="621" width="1" height="13" fill="#c0c0c0"/>
<rect x="1082" y="616" width="1" height="18" fill="#c0c0c0"/>
<rect x="1090" y="612" width="1" height="22" fill="#c0c0c0"/>
<rect x="1098" y="609" width="1" height="25" fill="#c0c0c0"/>
<rect x="1106" y="611" width="1" height="23" fill="#c0c0c0"/>
<rect x="1114" y="615" width="1" height="19" fill="#c0c0c0"/>
<rect x="1122" y="616" width="1" height="18" fill="#c0c0c0"/>
<rect x="1130" y="620" width="1" height="14" fill="#c0c0c0"/>
<rect x="1138" y="624" width="1" height="10" fill="#c0c0c0"/>
<rect x="1146" y="631" width="1" height="3" fill="#c0c0c0"/>
<rect x="1154" y="633" width="1" height="6" fill="#c0c0c0"/>
<rect x="1162" y="633" width="1" height="17" fill="#c0c0c0"/>
<rect x="1170" y="633" width="1" height="35" fill="#c0c0c0"/>
<rect x="1178" y="633" width="1" height="43" fill="#c0c0c0"/>
<rect x="1186" y="633" width="1" height="48" fill="#c0c0c0"/>
<rect x="1194" y="633" width="1" height="49" fill="#c0c0c0"/>
<rect x="1202" y="633" width="1" height="46" fill="#c0c0c0"/>
<rect x="1210" y="633" width="1" height="44" fill="#c0c0c0"/>
<rect x="1218" y="633" width="1" height="44" fill="#c0c0c0"/>
<rect x="1226" y="633" width="1" height="41" fill="#c0c0c0"/>
<rect x="1234" y="633" width="1" height="36" fill="#c0c0c0"/>
<rect x="1242" y="633" width="1" height="32" fill="#c0c0c0"/>
<rect x="1250" y="633" width="1" height="28" fill="#c0c0c0"/>
<rect x="1258" y="633" width="1" height="21" fill="#c0c0c0"/>
<rect x="1266" y="633" width="1" height="19" fill="#c0c0c0"/>
<rect x="1274" y="633" width="1" height="18" fill="#c0c0c0"/>
<rect x="1282" y="633" width="1" height="15" fill="#c0c0c0"/>
<rect x="1290" y="633" width="1" height="12" fill="#c0c0c0"/>
<rect x="1298" y="633" width="1" height="7" fill="#c0c0c0"/>
<rect x="1306" y="633" width="1" height="7" fill="#c0c0c0"/>
<rect x="1314" y="633" width="1" height="6" fill="#c0c0c0"/>
<rect x="1322" y="633" width="1" height="7" fill="#c0c0c0"/>
<rect x="1330" y="633" width="1" height="23" fill="#c0c0c0"/>
<rect x="1338" y="633" width="1" height="34" fill="#c0c0c0"/>
<rect x="1346" y="633" width="1" height="45" fill="#c0c0c0"/>
<rect x="1354" y="633" width="1" height="60" fill="#c0c0c0"/>
<rect x="1362" y="633" width="1" height="71" fill="#c0c0c0"/>
<rect x="1370" y="633" width="1" height="92" fill="#c0c0c0"/>
<rect x="1378" y="633" width="1" height="98" fill="#c0c0c0"/>
<rect x="1386" y="633" width="1" height="103" fill="#c0c0c0"/>
<rect x="1394" y="633" width="1" height="104" fill="#c0c0c0"/>
<rect x="1402" y="633" width="1" height="101" fill="#c0c0c0"/>
<rect x="1410" y="633" width="1" height="100" fill="#c0c0c0"/>
<rect x="1418" y="633" width="1" height="99" fill="#c0c0c0"/>
<rect x="1426" y="633" width="1" height="95" fill="#c0c0c0"/>
<rect x="1434" y="633" width="1" height="89" fill="#c0c0c0"/>
</g>
<g shape-rendering="crispEdges">
<path d="M136,597h2v1h-2zM141,597h2v1h-2zM144,597h1v1h-1zM148,597h3v1h-3zM154,597h2v1h-2zM130,598h2v1h-2zM135,598h1v1h-1zM156,598h1v1h-1zM125,599h1v1h-1zM129,599h1v1h-1zM160,599h2v1h-2zM163,599h1v1h-1zM41,600h2v1h-2zM47,600h3v1h-3zM53,600h3v1h-3zM59,600h1v1h-1zM61,600h2v1h-2zM119,600h1v1h-1zM123,600h2v1h-2zM167,600h1v1h-1zM34,601h3v1h-3zM40,601h1v1h-1zM66,601h2v1h-2zM110,601h3v1h-3zM117,601h2v1h-2zM168,601h2v1h-2zM29,602h2v1h-2zM68,602h1v1h-1zM72,602h1v1h-1zM74,602h2v1h-2zM92,602h3v1h-3zM98,602h3v1h-3zM104,602h3v1h-3zM28,603h1v1h-1zM79,603h3v1h-3zM85,603h3v1h-3zM173,603h1v1h-1zM21,604h3v1h-3zM174,604h2v1h-2zM15,605h3v1h-3zM1010,605h3v1h-3zM8,606h3v1h-3zM1005,606h1v1h-1zM1016,606h3v1h-3zM1023,606h1v1h-1zM2,607h3v1h-3zM179,607h1v1h-1zM181,607h1v1h-1zM1003,607h2v1h-2zM1024,607h2v1h-2zM1029,607h2v1h-2zM182,608h1v1h-1zM998,608h2v1h-2zM1031,608h1v1h-1zM1035,608h1v1h-1zM997,609h1v1h-1zM1036,609h1v1h-1zM1038,609h1v1h-1zM186,610h1v1h-1zM991,610h2v1h-2zM187,611h1v1h-1zM990,611h1v1h-1zM1042,611h3v1h-3zM188,612h1v1h-1zM1048,612h1v1h-1zM985,613h2v1h-2zM1049,613h2v1h-2zM1054,613h1v1h-1zM192,614h1v1h-1zM983,614h1v1h-1zM1056,614h2v1h-2zM1061,614h1v1h-1zM193,615h1v1h-1zM1062,615h2v1h-2zM1119,615h3v1h-3zM1125,615h1v1h-1zM1127,615h2v1h-2zM1132,615h3v1h-3zM1138,615h2v1h-2zM1141,615h1v1h-1zM194,616h1v1h-1zM385,616h3v1h-3zM979,616h1v1h-1zM1067,616h2v1h-2zM1113,616h3v1h-3zM1145,616h1v1h-1zM379,617h3v1h-3zM392,617h3v1h-3zM398,617h1v1h-1zM978,617h1v1h-1zM1069,617h1v1h-1zM1146,617h2v1h-2zM374,618h2v1h-2zM399,618h2v1h-2zM977,618h1v1h-1zM1073,618h3v1h-3zM1102,618h1v1h-1zM1106,618h3v1h-3zM1151,618h1v1h-1zM198,619h1v1h-1zM200,619h1v1h-1zM373,619h1v1h-1zM405,619h3v1h-3zM1080,619h3v1h-3zM1093,619h3v1h-3zM1099,619h1v1h-1zM1101,619h1v1h-1zM1152,619h2v1h-2zM201,620h1v1h-1zM366,620h2v1h-2zM369,620h1v1h-1zM1086,620h3v1h-3zM411,621h2v1h-2zM973,621h1v1h-1zM1158,621h1v1h-1zM360,622h3v1h-3zM413,622h1v1h-1zM972,622h1v1h-1zM1159,622h1v1h-1zM205,623h1v1h-1zM970,623h1v1h-1zM1160,623h1v1h-1zM206,624h1v1h-1zM354,624h3v1h-3zM418,624h1v1h-1zM207,625h1v1h-1zM419,625h1v1h-1zM1164,625h1v1h-1zM348,626h2v1h-2zM420,626h1v1h-1zM1165,626h1v1h-1zM347,627h1v1h-1zM966,627h1v1h-1zM1166,627h1v1h-1zM211,628h1v1h-1zM341,628h3v1h-3zM964,628h2v1h-2zM212,629h1v1h-1zM214,629h1v1h-1zM335,629h3v1h-3zM424,629h2v1h-2zM328,630h3v1h-3zM426,630h1v1h-1zM1171,630h1v1h-1zM323,631h2v1h-2zM1172,631h1v1h-1zM218,632h1v1h-1zM322,632h1v1h-1zM959,632h1v1h-1zM1173,632h1v1h-1zM219,633h2v1h-2zM315,633h3v1h-3zM957,633h2v1h-2zM309,634h3v1h-3zM430,634h1v1h-1zM305,635h1v1h-1zM431,635h1v1h-1zM225,636h2v1h-2zM303,636h2v1h-2zM433,636h1v1h-1zM1177,636h1v1h-1zM227,637h1v1h-1zM297,637h2v1h-2zM953,637h1v1h-1zM1178,637h1v1h-1zM296,638h1v1h-1zM952,638h1v1h-1zM1179,638h1v1h-1zM231,639h1v1h-1zM291,639h2v1h-2zM951,639h1v1h-1zM232,640h2v1h-2zM290,640h1v1h-1zM437,640h1v1h-1zM283,641h3v1h-3zM438,641h1v1h-1zM238,642h2v1h-2zM279,642h1v1h-1zM439,642h1v1h-1zM1183,642h1v1h-1zM240,643h1v1h-1zM277,643h2v1h-2zM947,643h1v1h-1zM1185,643h1v1h-1zM244,644h1v1h-1zM246,644h2v1h-2zM270,644h3v1h-3zM946,644h1v1h-1zM1186,644h1v1h-1zM251,645h3v1h-3zM264,645h3v1h-3zM945,645h1v1h-1zM257,646h3v1h-3zM443,646h1v1h-1zM1319,646h3v1h-3zM1325,646h3v1h-3zM1331,646h1v1h-1zM1333,646h2v1h-2zM444,647h1v1h-1zM1338,647h1v1h-1zM445,648h1v1h-1zM1190,648h1v1h-1zM1313,648h2v1h-2zM1339,648h2v1h-2zM942,649h1v1h-1zM1191,649h1v1h-1zM1312,649h1v1h-1zM1344,649h1v1h-1zM1192,650h1v1h-1zM1308,650h1v1h-1zM1345,650h1v1h-1zM941,651h1v1h-1zM1306,651h2v1h-2zM1346,651h1v1h-1zM940,652h1v1h-1zM450,653h1v1h-1zM1300,653h2v1h-2zM1351,653h1v1h-1zM451,654h1v1h-1zM1196,654h1v1h-1zM1299,654h1v1h-1zM1352,654h1v1h-1zM452,655h1v1h-1zM1197,655h1v1h-1zM1295,655h1v1h-1zM1353,655h1v1h-1zM936,656h1v1h-1zM1198,656h1v1h-1zM1293,656h2v1h-2zM935,657h1v1h-1zM934,658h1v1h-1zM1287,658h2v1h-2zM1357,658h1v1h-1zM456,659h1v1h-1zM1286,659h1v1h-1zM1358,659h1v1h-1zM457,660h1v1h-1zM1203,660h1v1h-1zM1360,660h1v1h-1zM458,661h1v1h-1zM1204,661h2v1h-2zM1281,661h2v1h-2zM931,662h1v1h-1zM1280,662h1v1h-1zM463,663h1v1h-1zM930,663h1v1h-1zM1364,663h1v1h-1zM464,664h1v1h-1zM929,664h1v1h-1zM1209,664h1v1h-1zM1274,664h2v1h-2zM1365,664h1v1h-1zM465,665h1v1h-1zM1210,665h2v1h-2zM1273,665h1v1h-1zM1366,665h1v1h-1zM1269,666h1v1h-1zM469,667h2v1h-2zM1267,667h2v1h-2zM471,668h1v1h-1zM1215,668h1v1h-1zM476,669h1v1h-1zM926,669h1v1h-1zM1216,669h2v1h-2zM1261,669h1v1h-1zM1263,669h1v1h-1zM477,670h2v1h-2zM925,670h1v1h-1zM1260,670h1v1h-1zM1369,670h1v1h-1zM482,671h3v1h-3zM924,671h1v1h-1zM1222,671h1v1h-1zM1370,671h1v1h-1zM488,672h3v1h-3zM495,672h2v1h-2zM1223,672h2v1h-2zM1255,672h2v1h-2zM1371,672h1v1h-1zM497,673h1v1h-1zM1254,673h1v1h-1zM501,674h3v1h-3zM1228,674h2v1h-2zM1249,674h2v1h-2zM507,675h1v1h-1zM921,675h1v1h-1zM1230,675h1v1h-1zM1235,675h2v1h-2zM1242,675h2v1h-2zM1247,675h1v1h-1zM509,676h2v1h-2zM920,676h1v1h-1zM1237,676h1v1h-1zM1241,676h1v1h-1zM1374,676h1v1h-1zM919,677h1v1h-1zM1375,677h1v1h-1zM514,678h2v1h-2zM1375,678h1v1h-1zM516,679h1v1h-1zM520,681h1v1h-1zM522,681h1v1h-1zM915,681h1v1h-1zM523,682h1v1h-1zM914,682h1v1h-1zM1379,682h1v1h-1zM913,683h1v1h-1zM1380,683h1v1h-1zM527,684h2v1h-2zM1380,684h1v1h-1zM529,685h1v1h-1zM533,685h2v1h-2zM536,685h1v1h-1zM540,686h3v1h-3zM909,686h1v1h-1zM546,687h3v1h-3zM907,687h1v1h-1zM553,688h1v1h-1zM587,688h1v1h-1zM591,688h3v1h-3zM597,688h1v1h-1zM599,688h2v1h-2zM906,688h1v1h-1zM554,689h2v1h-2zM578,689h3v1h-3zM585,689h2v1h-2zM604,689h3v1h-3zM1384,689h1v1h-1zM559,690h3v1h-3zM568,690h1v1h-1zM572,690h3v1h-3zM610,690h1v1h-1zM1385,690h1v1h-1zM566,691h2v1h-2zM611,691h1v1h-1zM613,691h1v1h-1zM1385,691h1v1h-1zM902,692h1v1h-1zM617,693h1v1h-1zM901,693h1v1h-1zM618,694h2v1h-2zM900,694h1v1h-1zM1389,695h1v1h-1zM1390,696h1v1h-1zM623,697h2v1h-2zM1391,697h1v1h-1zM625,698h1v1h-1zM896,698h1v1h-1zM895,699h1v1h-1zM630,700h1v1h-1zM894,700h1v1h-1zM631,701h1v1h-1zM632,702h1v1h-1zM1394,702h1v1h-1zM1395,703h1v1h-1zM636,704h1v1h-1zM1396,704h1v1h-1zM637,705h1v1h-1zM889,705h1v1h-1zM638,706h1v1h-1zM888,706h1v1h-1zM887,707h1v1h-1zM643,708h2v1h-2zM1400,708h1v1h-1zM645,709h1v1h-1zM1401,709h1v1h-1zM649,710h1v1h-1zM1402,710h1v1h-1zM650,711h2v1h-2zM883,711h1v1h-1zM656,712h1v1h-1zM883,712h1v1h-1zM657,713h2v1h-2zM882,713h1v1h-1zM662,714h2v1h-2zM664,715h1v1h-1zM1405,715h1v1h-1zM668,716h1v1h-1zM670,716h1v1h-1zM767,716h1v1h-1zM772,716h3v1h-3zM778,716h3v1h-3zM1407,716h1v1h-1zM671,717h1v1h-1zM765,717h2v1h-2zM785,717h1v1h-1zM878,717h1v1h-1zM1408,717h1v1h-1zM675,718h2v1h-2zM760,718h2v1h-2zM786,718h2v1h-2zM877,718h1v1h-1zM677,719h1v1h-1zM759,719h1v1h-1zM791,719h1v1h-1zM876,719h1v1h-1zM681,720h3v1h-3zM753,720h2v1h-2zM792,720h2v1h-2zM688,721h1v1h-1zM752,721h1v1h-1zM1412,721h1v1h-1zM689,722h2v1h-2zM747,722h2v1h-2zM798,722h3v1h-3zM1413,722h1v1h-1zM694,723h3v1h-3zM746,723h1v1h-1zM871,723h1v1h-1zM1414,723h1v1h-1zM701,724h3v1h-3zM741,724h1v1h-1zM870,724h1v1h-1zM707,725h3v1h-3zM739,725h2v1h-2zM869,725h1v1h-1zM1419,725h1v1h-1zM714,726h3v1h-3zM804,726h2v1h-2zM1420,726h1v1h-1zM720,727h2v1h-2zM726,727h2v1h-2zM729,727h1v1h-1zM733,727h3v1h-3zM806,727h1v1h-1zM1421,727h1v1h-1zM722,728h1v1h-1zM1426,728h1v1h-1zM865,729h1v1h-1zM1427,729h2v1h-2zM864,730h1v1h-1zM1432,730h1v1h-1zM811,731h1v1h-1zM863,731h1v1h-1zM1433,731h1v1h-1zM812,732h2v1h-2zM858,734h2v1h-2zM817,735h2v1h-2zM856,735h1v1h-1zM819,736h1v1h-1zM824,738h2v1h-2zM850,738h3v1h-3zM826,739h1v1h-1zM831,740h3v1h-3zM845,740h1v1h-1zM837,741h3v1h-3zM843,741h2v1h-2z" fill="#ff0000"/>
<polyline points="2.0,824.0 10.0,836.2 18.0,838.3 26.0,840.3 34.0,836.2 42.0,841.3 50.0,841.3 58.0,841.3 66.0,842.3 74.0,831.8 82.0,822.4 90.0,822.4 98.0,820.0 106.0,833.2 114.0,829.3 122.0,825.0 130.0,832.8 138.0,840.7 146.0,847.2 154.0,847.6 162.0,856.4 170.0,863.3 178.0,861.4 186.0,862.7 194.0,868.2 202.0,868.2 210.0,869.6 218.0,874.1 226.0,852.5 234.0,843.3 242.0,844.2 250.0,847.6 258.0,843.3 266.0,839.3 274.0,850.1 282.0,844.6 290.0,843.3 298.0,841.3 306.0,843.3 314.0,844.2 322.0,832.4 330.0,851.1 338.0,838.7 346.0,830.5 354.0,827.5 362.0,825.9 370.0,828.9 378.0,834.8 386.0,868.2 394.0,871.2 402.0,863.7 410.0,862.3 418.0,865.3 426.0,882.0 434.0,869.2 442.0,870.2 450.0,866.7 458.0,863.3 466.0,860.4 474.0,848.6 482.0,844.2 490.0,841.3 498.0,878.1 506.0,882.4 514.0,874.1 522.0,874.1 530.0,853.5 538.0,844.6 546.0,852.1 554.0,854.5 562.0,847.6 570.0,856.0 578.0,867.3 586.0,869.2 594.0,870.2 602.0,864.3 610.0,862.3 618.0,870.2 626.0,861.4 634.0,863.3 642.0,861.4 650.0,865.9 658.0,870.2 666.0,867.3 674.0,879.1 682.0,862.3 690.0,859.4 698.0,865.3 706.0,862.3 714.0,865.3 722.0,874.1 730.0,848.6 738.0,847.2 746.0,858.0 754.0,858.4 762.0,862.3 770.0,863.3 778.0,873.2 786.0,874.1 794.0,877.5 802.0,867.3 810.0,867.3 818.0,862.9 826.0,851.5 834.0,857.4 842.0,853.5 850.0,852.5 858.0,856.0 866.0,859.4 874.0,848.2 882.0,848.2 890.0,848.2 898.0,850.1 906.0,850.1 914.0,840.7 922.0,831.4 930.0,836.2 938.0,834.4 946.0,842.3 954.0,841.3 962.0,850.3 970.0,837.8 978.0,846.2 986.0,845.2 994.0,840.3 1002.0,840.3 1010.0,842.3 1018.0,854.5 1026.0,853.1 1034.0,854.5 1042.0,848.6 1050.0,844.2 1058.0,847.2 1066.0,843.3 1074.0,844.2 1082.0,838.7 1090.0,837.1 1098.0,837.1 1106.0,845.2 1114.0,849.2 1122.0,846.2 1130.0,850.1 1138.0,853.5 1146.0,858.4 1154.0,864.3 1162.0,871.2 1170.0,882.6 1178.0,868.6 1186.0,868.2 1194.0,863.3 1202.0,857.4 1210.0,857.4 1218.0,860.4 1226.0,856.0 1234.0,852.9 1242.0,851.5 1250.0,852.1 1258.0,845.6 1266.0,851.5 1274.0,850.3 1282.0,849.2 1290.0,847.2 1298.0,842.1 1306.0,849.2 1314.0,850.5 1322.0,855.1 1330.0,880.0 1338.0,878.5 1346.0,883.4 1354.0,887.9 1362.0,889.5 1370.0,899.3 1378.0,878.5 1386.0,879.5 1394.0,877.5 1402.0,870.2 1410.0,873.2 1418.0,874.5 1426.0,868.6 1434.0,867.3" fill="none" stroke="#1e90ff" stroke-width="1"/>
</g>
<g shape-rendering="crispEdges">
<line x1="3" y1="801.5" x2="1630" y2="801.5" stroke="#c0c0c0" stroke-width="1" stroke-dasharray="3,3"/>
<line x1="3" y1="848.5" x2="1630" y2="848.5" stroke="#c0c0c0" stroke-width="1" stroke-dasharray="3,3"/>
<line x1="3" y1="904.5" x2="1630" y2="904.5" stroke="#c0c0c0" stroke-width="1" stroke-dasharray="3,3"/>
<rect x="1" y="28" width="1" height="901" fill="#000"/>
<rect x="1" y="28" width="1630" height="1" fill="#000"/>
<rect x="1630" y="28" width="1" height="901" fill="#000"/>
<rect x="1" y="581" width="1630" height="1" fill="#000"/>
<rect x="1" y="583" width="1630" height="1" fill="#000"/>
<rect x="1" y="766" width="1630" height="1" fill="#000"/>
<rect x="1" y="768" width="1630" height="1" fill="#000"/>
<rect x="1" y="928" width="1630" height="1" fill="#000"/>
<rect x="0" y="582" width="1631" height="1" fill="#fff"/>
<rect x="0" y="767" width="1631" height="1" fill="#fff"/>
<rect x="1" y="582" width="1" height="1" fill="#fff"/>
<rect x="1" y="767" width="1" height="1" fill="#fff"/>
<rect x="1630" y="582" width="1" height="1" fill="#fff"/>
<rect x="1630" y="767" width="1" height="1" fill="#fff"/>
<rect x="2" y="929" width="1" height="3" fill="#000"/>
<rect x="66" y="929" width="1" height="3" fill="#000"/>
<rect x="130" y="929" width="1" height="3" fill="#000"/>
<rect x="194" y="929" width="1" height="3" fill="#000"/>
<rect x="258" y="929" width="1" height="3" fill="#000"/>
<rect x="322" y="929" width="1" height="3" fill="#000"/>
<rect x="386" y="929" width="1" height="3" fill="#000"/>
<rect x="450" y="929" width="1" height="3" fill="#000"/>
<rect x="514" y="929" width="1" height="3" fill="#000"/>
<rect x="578" y="929" width="1" height="3" fill="#000"/>
<rect x="642" y="929" width="1" height="3" fill="#000"/>
<rect x="706" y="929" width="1" height="3" fill="#000"/>
<rect x="770" y="929" width="1" height="3" fill="#000"/>
<rect x="834" y="929" width="1" height="3" fill="#000"/>
<rect x="898" y="929" width="1" height="3" fill="#000"/>
<rect x="962" y="929" width="1" height="3" fill="#000"/>
<rect x="1026" y="929" width="1" height="3" fill="#000"/>
<rect x="1090" y="929" width="1" height="3" fill="#000"/>
<rect x="1154" y="929" width="1" height="3" fill="#000"/>
<rect x="1218" y="929" width="1" height="3" fill="#000"/>
<rect x="1282" y="929" width="1" height="3" fill="#000"/>
<rect x="1346" y="929" width="1" height="3" fill="#000"/>
<rect x="1410" y="929" width="1" height="3" fill="#000"/>
<rect x="1631" y="50" width="2" height="1" fill="#000"/>
<rect x="1631" y="83" width="2" height="1" fill="#000"/>
<rect x="1631" y="116" width="2" height="1" fill="#000"/>
<rect x="1631" y="149" width="2" height="1" fill="#000"/>
<rect x="1631" y="182" width="2" height="1" fill="#000"/>
<rect x="1631" y="215" width="2" height="1" fill="#000"/>
<rect x="1631" y="248" width="2" height="1" fill="#000"/>
<rect x="1631" y="281" width="2" height="1" fill="#000"/>
<rect x="1631" y="314" width="2" height="1" fill="#000"/>
<rect x="1631" y="347" width="2" height="1" fill="#000"/>
<rect x="1631" y="380" width="2" height="1" fill="#000"/>
<rect x="1631" y="413" width="2" height="1" fill="#000"/>
<rect x="1631" y="446" width="2" height="1" fill="#000"/>
<rect x="1631" y="479" width="2" height="1" fill="#000"/>
<rect x="1631" y="512" width="2" height="1" fill="#000"/>
<rect x="1631" y="545" width="2" height="1" fill="#000"/>
<rect x="1631" y="578" width="2" height="1" fill="#000"/>
<rect x="1631" y="585" width="1" height="1" fill="#000"/>
<rect x="1631" y="633" width="1" height="1" fill="#000"/>
<rect x="1631" y="765" width="1" height="1" fill="#000"/>
<rect x="1631" y="770" width="1" height="1" fill="#000"/>
<rect x="1631" y="927" width="1" height="1" fill="#000"/>
</g>
<text x="1636" y="54" font-size="10" fill="#000" text-anchor="start" font-weight="normal" textLength="33" lengthAdjust="spacingAndGlyphs">26764.0</text>
<text x="1636" y="87" font-size="10" fill="#000" text-anchor="start" font-weight="normal" textLength="33" lengthAdjust="spacingAndGlyphs">26641.5</text>
<text x="1636" y="120" font-size="10" fill="#000" text-anchor="start" font-weight="normal" textLength="33" lengthAdjust="spacingAndGlyphs">26522.5</text>
<text x="1636" y="153" font-size="10" fill="#000" text-anchor="start" font-weight="normal" textLength="33" lengthAdjust="spacingAndGlyphs">26403.5</text>
<text x="1636" y="186" font-size="10" fill="#000" text-anchor="start" font-weight="normal" textLength="33" lengthAdjust="spacingAndGlyphs">26281.0</text>
<text x="1636" y="219" font-size="10" fill="#000" text-anchor="start" font-weight="normal" textLength="33" lengthAdjust="spacingAndGlyphs">26162.0</text>
<text x="1636" y="252" font-size="10" fill="#000" text-anchor="start" font-weight="normal" textLength="33" lengthAdjust="spacingAndGlyphs">26043.0</text>
<text x="1636" y="285" font-size="10" fill="#000" text-anchor="start" font-weight="normal" textLength="33" lengthAdjust="spacingAndGlyphs">25924.0</text>
<text x="1636" y="318" font-size="10" fill="#000" text-anchor="start" font-weight="normal" textLength="33" lengthAdjust="spacingAndGlyphs">25801.5</text>
<text x="1636" y="351" font-size="10" fill="#000" text-anchor="start" font-weight="normal" textLength="33" lengthAdjust="spacingAndGlyphs">25682.5</text>
<text x="1636" y="384" font-size="10" fill="#000" text-anchor="start" font-weight="normal" textLength="33" lengthAdjust="spacingAndGlyphs">25563.5</text>
<text x="1636" y="417" font-size="10" fill="#000" text-anchor="start" font-weight="normal" textLength="33" lengthAdjust="spacingAndGlyphs">25441.0</text>
<text x="1636" y="450" font-size="10" fill="#000" text-anchor="start" font-weight="normal" textLength="33" lengthAdjust="spacingAndGlyphs">25322.0</text>
<text x="1636" y="483" font-size="10" fill="#000" text-anchor="start" font-weight="normal" textLength="33" lengthAdjust="spacingAndGlyphs">25203.0</text>
<text x="1636" y="516" font-size="10" fill="#000" text-anchor="start" font-weight="normal" textLength="33" lengthAdjust="spacingAndGlyphs">25080.5</text>
<text x="1636" y="549" font-size="10" fill="#000" text-anchor="start" font-weight="normal" textLength="33" lengthAdjust="spacingAndGlyphs">24961.5</text>
<text x="1636" y="582" font-size="10" fill="#000" text-anchor="start" font-weight="normal" textLength="33" lengthAdjust="spacingAndGlyphs">24842.5</text>
<g shape-rendering="crispEdges">
<rect x="1632" y="404" width="41" height="11" fill="#ff0000"/>
<rect x="1632" y="433" width="41" height="11" fill="#ff0000"/>
<rect x="1632" y="460" width="41" height="11" fill="#32cd32"/>
<rect x="1632" y="533" width="41" height="11" fill="#0000ff"/>
<rect x="1632" y="563" width="41" height="11" fill="#0000ff"/>
<rect x="1632" y="480" width="41" height="11" fill="#000"/>
</g>
<text x="1636" y="413" font-size="10" fill="#fff" text-anchor="start" font-weight="normal" textLength="33" lengthAdjust="spacingAndGlyphs">25451.9</text>
<text x="1636" y="442" font-size="10" fill="#fff" text-anchor="start" font-weight="normal" textLength="33" lengthAdjust="spacingAndGlyphs">25345.9</text>
<text x="1636" y="469" font-size="10" fill="#fff" text-anchor="start" font-weight="normal" textLength="33" lengthAdjust="spacingAndGlyphs">25250.1</text>
<text x="1636" y="542" font-size="10" fill="#fff" text-anchor="start" font-weight="normal" textLength="33" lengthAdjust="spacingAndGlyphs">24983.4</text>
<text x="1636" y="572" font-size="10" fill="#fff" text-anchor="start" font-weight="normal" textLength="33" lengthAdjust="spacingAndGlyphs">24873.3</text>
<text x="1636" y="489" font-size="10" fill="#fff" text-anchor="start" font-weight="normal" textLength="33" lengthAdjust="spacingAndGlyphs">25181.0</text>
<text x="1634" y="594" font-size="10" fill="#000" text-anchor="start" font-weight="normal" textLength="23" lengthAdjust="spacingAndGlyphs">68.21</text>
<text x="1634" y="637" font-size="10" fill="#000" text-anchor="start" font-weight="normal" textLength="18" lengthAdjust="spacingAndGlyphs">0.00</text>
<text x="1634" y="763" font-size="10" fill="#000" text-anchor="start" font-weight="normal" textLength="31" lengthAdjust="spacingAndGlyphs">-185.05</text>
<text x="1634" y="779" font-size="10" fill="#000" text-anchor="start" font-weight="normal" textLength="15" lengthAdjust="spacingAndGlyphs">100</text>
<text x="1633" y="805" font-size="10" fill="#000" text-anchor="start" font-weight="normal" textLength="10" lengthAdjust="spacingAndGlyphs">80</text>
<text x="1633" y="852" font-size="10" fill="#000" text-anchor="start" font-weight="normal" textLength="10" lengthAdjust="spacingAndGlyphs">50</text>
<text x="1633" y="908" font-size="10" fill="#000" text-anchor="start" font-weight="normal" textLength="10" lengthAdjust="spacingAndGlyphs">15</text>
<text x="1634" y="925" font-size="10" fill="#000" text-anchor="start" font-weight="normal" textLength="5" lengthAdjust="spacingAndGlyphs">0</text>
<text x="6" y="596" font-size="10" fill="#000" text-anchor="start" font-weight="normal" textLength="133" lengthAdjust="spacingAndGlyphs">MACD(12,26,9) -124.02 -136.59</text>
<text x="6" y="781" font-size="10" fill="#000" text-anchor="start" font-weight="normal" textLength="68" lengthAdjust="spacingAndGlyphs">RSI(14) 38.6033</text>
<text x="17" y="40" font-size="10" fill="#000" text-anchor="start" font-weight="normal" textLength="187" lengthAdjust="spacingAndGlyphs" xml:space="preserve" style="white-space:pre">DJ30-,H4  25167.0 25191.0 25163.0 25181.0</text>
<path d="M5,39 L12,39 L8.5,35.5 Z" fill="#000"/>
<path d="M1444,29 L1454,29 L1449,34 Z" fill="#b0b0b0"/>
<text x="1" y="941" font-size="10" fill="#000" text-anchor="start" font-weight="normal" textLength="50" lengthAdjust="spacingAndGlyphs">21 Apr 2019</text>
<text x="65" y="941" font-size="10" fill="#000" text-anchor="start" font-weight="normal" textLength="53" lengthAdjust="spacingAndGlyphs">23 Apr 04:00</text>
<text x="129" y="941" font-size="10" fill="#000" text-anchor="start" font-weight="normal" textLength="53" lengthAdjust="spacingAndGlyphs">24 Apr 12:00</text>
<text x="193" y="941" font-size="10" fill="#000" text-anchor="start" font-weight="normal" textLength="53" lengthAdjust="spacingAndGlyphs">25 Apr 20:00</text>
<text x="257" y="941" font-size="10" fill="#000" text-anchor="start" font-weight="normal" textLength="53" lengthAdjust="spacingAndGlyphs">29 Apr 00:00</text>
<text x="321" y="941" font-size="10" fill="#000" text-anchor="start" font-weight="normal" textLength="53" lengthAdjust="spacingAndGlyphs">30 Apr 08:00</text>
<text x="385" y="941" font-size="10" fill="#000" text-anchor="start" font-weight="normal" textLength="52" lengthAdjust="spacingAndGlyphs">1 May 16:00</text>
<text x="449" y="941" font-size="10" fill="#000" text-anchor="start" font-weight="normal" textLength="52" lengthAdjust="spacingAndGlyphs">3 May 00:00</text>
<text x="513" y="941" font-size="10" fill="#000" text-anchor="start" font-weight="normal" textLength="52" lengthAdjust="spacingAndGlyphs">6 May 04:00</text>
<text x="577" y="941" font-size="10" fill="#000" text-anchor="start" font-weight="normal" textLength="52" lengthAdjust="spacingAndGlyphs">7 May 12:00</text>
<text x="641" y="941" font-size="10" fill="#000" text-anchor="start" font-weight="normal" textLength="52" lengthAdjust="spacingAndGlyphs">8 May 20:00</text>
<text x="705" y="941" font-size="10" fill="#000" text-anchor="start" font-weight="normal" textLength="57" lengthAdjust="spacingAndGlyphs">10 May 04:00</text>
<text x="769" y="941" font-size="10" fill="#000" text-anchor="start" font-weight="normal" textLength="57" lengthAdjust="spacingAndGlyphs">13 May 08:00</text>
<text x="833" y="941" font-size="10" fill="#000" text-anchor="start" font-weight="normal" textLength="57" lengthAdjust="spacingAndGlyphs">14 May 16:00</text>
<text x="897" y="941" font-size="10" fill="#000" text-anchor="start" font-weight="normal" textLength="57" lengthAdjust="spacingAndGlyphs">16 May 00:00</text>
<text x="961" y="941" font-size="10" fill="#000" text-anchor="start" font-weight="normal" textLength="57" lengthAdjust="spacingAndGlyphs">17 May 08:00</text>
<text x="1025" y="941" font-size="10" fill="#000" text-anchor="start" font-weight="normal" textLength="57" lengthAdjust="spacingAndGlyphs">20 May 12:00</text>
<text x="1089" y="941" font-size="10" fill="#000" text-anchor="start" font-weight="normal" textLength="57" lengthAdjust="spacingAndGlyphs">21 May 20:00</text>
<text x="1153" y="941" font-size="10" fill="#000" text-anchor="start" font-weight="normal" textLength="57" lengthAdjust="spacingAndGlyphs">23 May 04:00</text>
<text x="1217" y="941" font-size="10" fill="#000" text-anchor="start" font-weight="normal" textLength="57" lengthAdjust="spacingAndGlyphs">24 May 12:00</text>
<text x="1281" y="941" font-size="10" fill="#000" text-anchor="start" font-weight="normal" textLength="57" lengthAdjust="spacingAndGlyphs">27 May 16:00</text>
<text x="1345" y="941" font-size="10" fill="#000" text-anchor="start" font-weight="normal" textLength="57" lengthAdjust="spacingAndGlyphs">29 May 00:00</text>
<text x="1409" y="941" font-size="10" fill="#000" text-anchor="start" font-weight="normal" textLength="57" lengthAdjust="spacingAndGlyphs">30 May 08:00</text>
<defs><linearGradient id="gt" x1="0" y1="0" x2="0" y2="1"><stop offset="0" stop-color="#fb5252"/><stop offset="1" stop-color="#e03232"/></linearGradient><linearGradient id="gb" x1="0" y1="0" x2="0" y2="1"><stop offset="0" stop-color="#e03232"/><stop offset="0.55" stop-color="#c81818"/><stop offset="1" stop-color="#b00000"/></linearGradient></defs>
<g shape-rendering="crispEdges">
<rect x="5" y="48" width="52" height="25" fill="url(#gt)"/>
<rect x="5" y="72" width="109" height="40" fill="url(#gb)"/>
<rect x="172" y="48" width="52" height="25" fill="url(#gt)"/>
<rect x="116" y="72" width="108" height="40" fill="url(#gb)"/>
<path d="M5.5,111.5 V48.5 H56.5 V72.5 H113.5 V111.5 Z" fill="none" stroke="#c40c0c" stroke-width="1"/>
<path d="M116.5,111.5 V72.5 H172.5 V48.5 H223.5 V111.5 Z" fill="none" stroke="#c40c0c" stroke-width="1"/>
<rect x="9" y="71" width="44" height="1" fill="#8e0c0c"/><rect x="9" y="72" width="44" height="1" fill="#f46a6a"/>
<rect x="176" y="71" width="44" height="1" fill="#8e0c0c"/><rect x="176" y="72" width="44" height="1" fill="#f46a6a"/>
<rect x="59.5" y="48.5" width="110" height="21" fill="#fff" stroke="#a9b0b8" stroke-width="1"/>
<rect x="60" y="49" width="20" height="20" fill="#e9e9e9"/><rect x="80" y="49" width="1" height="20" fill="#b4bac0"/>
<rect x="149" y="49" width="20" height="20" fill="#e9e9e9"/><rect x="148" y="49" width="1" height="20" fill="#b4bac0"/>
</g>
<path d="M66.8,57 L72.4,57 L69.6,60.3 Z" fill="#000"/>
<path d="M155.7,60.3 L161.3,60.3 L158.5,57 Z" fill="#000"/>
<text x="145" y="63" font-size="12" text-anchor="end" fill="#000" textLength="23" lengthAdjust="spacingAndGlyphs">1.00</text>
<text x="17" y="64" font-size="12" fill="#fff" textLength="26" lengthAdjust="spacingAndGlyphs">SELL</text>
<text x="185.5" y="64" font-size="12" fill="#fff" textLength="23.5" lengthAdjust="spacingAndGlyphs">BUY</text>
<text x="21" y="103" font-size="12.2" font-weight="bold" fill="#fff" textLength="35" lengthAdjust="spacingAndGlyphs">25179</text>
<text x="131" y="103" font-size="12.2" font-weight="bold" fill="#fff" textLength="35" lengthAdjust="spacingAndGlyphs">25187</text>
<text x="58.5" y="103" font-size="33" fill="#fff" textLength="24.5" lengthAdjust="spacingAndGlyphs">.5</text>
<text x="169.5" y="103" font-size="33" fill="#fff" textLength="24.5" lengthAdjust="spacingAndGlyphs">.5</text>
<path d="M1.5,4.5 H9 L12.5,8 V17.5 H1.5 Z" fill="#fff" stroke="#6e6e6e" stroke-width="1"/>
<path d="M9,4.5 V8 H12.5" fill="#ddd" stroke="#888" stroke-width="0.8"/>
<g shape-rendering="crispEdges"><rect x="3" y="7" width="3" height="1" fill="#999"/><rect x="3" y="10" width="5" height="1" fill="#999"/><rect x="3" y="12" width="4" height="1" fill="#999"/></g>
<path d="M9.5,10 H12.5 V14.5 H17 V17.5 H12.5 V21.5 H9.5 V17.5 H5.5 V14.5 H9.5 Z" fill="#3cdc3c" stroke="#0a8a0a" stroke-width="0.9"/>
<text x="20" y="15.5" font-size="12" fill="#000" font-weight="normal" textLength="36" lengthAdjust="spacingAndGlyphs">新订单</text>
<path d="M68.3,13.5 L71.5,6 L75.5,5.2 L84,12.3 L76.3,19.3 Z" fill="#e8b418" stroke="#a87408" stroke-width="1"/>
<path d="M72.5,7.5 L75.5,6.8 L82,12.3" fill="none" stroke="#fff0a0" stroke-width="1"/>
<path d="M68.3,13.5 L76.3,19.3 L84,12.3 L84,14 L76.5,20.6 L68.3,15 Z" fill="#b07c10"/>
<path d="M98,6 L104,4.5 L109.5,6 L109.5,14 L98,14 Z" fill="#2d9cf0" stroke="#1070c8" stroke-width="0.8"/>
<path d="M101.5,7 L109.5,6 V14 H101.5 Z" fill="#7cc4f8"/>
<path d="M98,17.5 a3,3 0 0 1 2.5,-4.5 a3.5,3.5 0 0 1 6,-0.5 a3,3 0 0 1 4.5,3 a2,2 0 0 1 -1,2.8 H99 Z" fill="#e8eef8" stroke="#7088b8" stroke-width="0.9"/>
<circle cx="132" cy="11.5" r="7.5" fill="none" stroke="#8fb0e0" stroke-width="1.3"/>
<circle cx="132" cy="11.5" r="4.6" fill="none" stroke="#5f8fe0" stroke-width="1.3"/>
<path d="M132,11.5 L132,19.5 A8,8 0 0 0 139.5,11.5 Z" fill="#7cc47c" opacity="0.75"/>
<circle cx="132" cy="11.3" r="1.8" fill="#2860d8"/>
<rect x="131.3" y="12" width="1.5" height="7.6" fill="#20a020"/>
<path d="M152,11 L167,11 L160,19.5 L157,19.5 Z" fill="#f8d848" stroke="#c89818" stroke-width="0.8"/>
<ellipse cx="159.3" cy="8.7" rx="7.8" ry="2.6" fill="#3c9cd8" stroke="#2070b0" stroke-width="0.7"/>
<path d="M155,8.5 Q155.5,4 159.5,4 Q163.5,4 164,8.5 Z" fill="#58b4e8" stroke="#2070b0" stroke-width="0.7"/>
<circle cx="163.6" cy="15.8" r="4.3" fill="#e02010" stroke="#a81008" stroke-width="0.6"/>
<rect x="161.8" y="14" width="3.6" height="3.6" fill="#fff"/>
<text x="172.5" y="15.5" font-size="12" fill="#000" font-weight="normal" textLength="47" lengthAdjust="spacingAndGlyphs">自动交易</text>
<rect x="227" y="0" width="1" height="24" fill="#a0a0a0" shape-rendering="crispEdges"/><rect x="228" y="0" width="1" height="24" fill="#fbfbfb" shape-rendering="crispEdges"/>
<g shape-rendering="crispEdges"><rect x="231" y="2" width="3" height="1" fill="#a8a8a8"/><rect x="231" y="4" width="3" height="1" fill="#a8a8a8"/><rect x="231" y="6" width="3" height="1" fill="#a8a8a8"/><rect x="231" y="8" width="3" height="1" fill="#a8a8a8"/><rect x="231" y="10" width="3" height="1" fill="#a8a8a8"/><rect x="231" y="12" width="3" height="1" fill="#a8a8a8"/><rect x="231" y="14" width="3" height="1" fill="#a8a8a8"/><rect x="231" y="16" width="3" height="1" fill="#a8a8a8"/><rect x="231" y="18" width="3" height="1" fill="#a8a8a8"/><rect x="231" y="20" width="3" height="1" fill="#a8a8a8"/></g>
<g shape-rendering="crispEdges"><rect x="245" y="7" width="1" height="13" fill="#555"/><rect x="242" y="17" width="13" height="1" fill="#555"/></g>
<path d="M243.5,8.8 L245.5,6 L247.5,8.8 Z M254.3,15.5 L257,17.5 L254.3,19.5 Z" fill="#555"/>
<g shape-rendering="crispEdges"><rect x="251" y="7" width="1" height="9" fill="#1a9a1a"/><rect x="252" y="8" width="2" height="1" fill="#1a9a1a"/><rect x="249" y="14" width="2" height="1" fill="#1a9a1a"/></g>
<g shape-rendering="crispEdges"><rect x="265" y="0" width="25" height="22" fill="#f9f9f9"/><rect x="265" y="0" width="25" height="1" fill="#a0a0a0"/><rect x="265" y="0" width="1" height="22" fill="#a0a0a0"/></g>
<g shape-rendering="crispEdges"><rect x="273" y="7" width="1" height="13" fill="#555"/><rect x="270" y="17" width="13" height="1" fill="#555"/></g>
<path d="M271.5,8.8 L273.5,6 L275.5,8.8 Z M282.3,15.5 L285,17.5 L282.3,19.5 Z" fill="#555"/>
<g shape-rendering="crispEdges"><rect x="279" y="4" width="1" height="12" fill="#149414"/><rect x="277" y="6" width="5" height="8" fill="#149414"/><rect x="278" y="7" width="3" height="6" fill="#58e058"/></g>
<g shape-rendering="crispEdges"><rect x="301" y="7" width="1" height="13" fill="#555"/><rect x="298" y="17" width="13" height="1" fill="#555"/></g>
<path d="M299.5,8.8 L301.5,6 L303.5,8.8 Z M310.3,15.5 L313,17.5 L310.3,19.5 Z" fill="#555"/>
<path d="M299.8,14.7 Q303,9 306,9.3 Q308.5,10 311.6,13.2" fill="none" stroke="#1a9a1a" stroke-width="1.2"/>
<rect x="322" y="1" width="1" height="21" fill="#a0a0a0" shape-rendering="crispEdges"/>
<path d="M341,14 L346.6,19" stroke="#c8a020" stroke-width="2.6" stroke-linecap="round"/>
<path d="M341.3,13.7 L346.3,18.4" stroke="#f8e070" stroke-width="0.9"/>
<circle cx="337" cy="10" r="5.6" fill="#d4e8f8" stroke="#3c7cc8" stroke-width="1.3"/>
<rect x="334" y="9.2" width="6" height="1.8" fill="#3c7cc8"/>
<rect x="336.1" y="7" width="1.8" height="6" fill="#3c7cc8"/>
<path d="M369,14 L374.6,19" stroke="#c8a020" stroke-width="2.6" stroke-linecap="round"/>
<path d="M369.3,13.7 L374.3,18.4" stroke="#f8e070" stroke-width="0.9"/>
<circle cx="365" cy="10" r="5.6" fill="#d4e8f8" stroke="#3c7cc8" stroke-width="1.3"/>
<rect x="362" y="9.2" width="6" height="1.8" fill="#3c7cc8"/>
<g shape-rendering="crispEdges"><rect x="387" y="4" width="8" height="8" fill="#3aa018"/><rect x="395" y="4" width="8" height="8" fill="#1c50d0"/><rect x="387" y="12" width="8" height="8" fill="#1c50d0"/><rect x="395" y="12" width="8" height="8" fill="#3aa018"/><rect x="388" y="7" width="6" height="4" fill="#fff"/><rect x="396" y="7" width="6" height="4" fill="#fff"/><rect x="388" y="15" width="6" height="4" fill="#fff"/><rect x="396" y="15" width="6" height="4" fill="#fff"/><rect x="389" y="8" width="4" height="1" fill="#9cd080"/><rect x="397" y="8" width="4" height="1" fill="#90a8e8"/><rect x="389" y="16" width="4" height="1" fill="#90a8e8"/><rect x="397" y="16" width="4" height="1" fill="#9cd080"/></g>
<rect x="412" y="1" width="1" height="21" fill="#a0a0a0" shape-rendering="crispEdges"/>
<g shape-rendering="crispEdges"><rect x="417" y="0" width="25" height="22" fill="#f9f9f9"/><rect x="417" y="0" width="25" height="1" fill="#a0a0a0"/><rect x="417" y="0" width="1" height="22" fill="#a0a0a0"/></g>
<g shape-rendering="crispEdges"><rect x="425" y="7" width="1" height="13" fill="#555"/><rect x="422" y="17" width="13" height="1" fill="#555"/></g>
<path d="M423.5,8.8 L425.5,6 L427.5,8.8 Z M434.3,15.5 L437,17.5 L434.3,19.5 Z" fill="#555"/>
<path d="M430,8 L434.2,11.5 L430,15 Z" fill="#58d858" stroke="#149414" stroke-width="0.9"/>
<g shape-rendering="crispEdges"><rect x="445" y="0" width="25" height="22" fill="#f9f9f9"/><rect x="445" y="0" width="25" height="1" fill="#a0a0a0"/><rect x="445" y="0" width="1" height="22" fill="#a0a0a0"/></g>
<g shape-rendering="crispEdges"><rect x="453" y="7" width="1" height="13" fill="#555"/><rect x="450" y="17" width="13" height="1" fill="#555"/></g>
<path d="M451.5,8.8 L453.5,6 L455.5,8.8 Z M462.3,15.5 L465,17.5 L462.3,19.5 Z" fill="#555"/>
<rect x="459" y="6" width="1" height="10" fill="#1868b0" shape-rendering="crispEdges"/>
<path d="M460.5,11.5 L464,9 L463.3,11 L465,11 L465,12 L463.3,12 L464,14 Z" fill="#e03000"/>
<rect x="474" y="1" width="1" height="21" fill="#a0a0a0" shape-rendering="crispEdges"/>
<path d="M484.5,4.5 H492 L495.5,8 V17 H484.5 Z" fill="#fff" stroke="#6e6e6e" stroke-width="1"/>
<path d="M492,4.5 V8 H495.5" fill="#ddd" stroke="#888" stroke-width="0.8"/>
<text x="486.5" y="14" font-size="9" fill="#604020" font-style="italic">f</text>
<path d="M492.5,10.5 H495.5 V14.5 H500 V17.5 H495.5 V21.5 H492.5 V17.5 H488 V14.5 H492.5 Z" fill="#3cdc3c" stroke="#0a8a0a" stroke-width="0.9"/>
<path d="M505.7,11 L511.09999999999997,11 L508.4,14 Z" fill="#000"/>
<circle cx="530" cy="12" r="6.9" fill="#e8eef8" stroke="#1464d8" stroke-width="2.6"/>
<path d="M530,7.5 V12 H533.5" fill="none" stroke="#333" stroke-width="1.1"/>
<path d="M544.7,11 L550.1,11 L547.4000000000001,14 Z" fill="#000"/>
<g shape-rendering="crispEdges"><rect x="561" y="5" width="16" height="14" fill="#fff" stroke="#2c64c0" stroke-width="1"/><rect x="561" y="5" width="16" height="2" fill="#5c94e0"/><rect x="561" y="12" width="16" height="1" fill="#5c94e0"/></g>
<path d="M563,10.5 L566,9.5 L568,10.2 L570.5,9 L572.5,9.8 L575,8.7" fill="none" stroke="#c03010" stroke-width="1.1"/>
<path d="M563,16.5 L566,15.8 L568,16.3 L571,14.5 L573,16.2 L575,16" fill="none" stroke="#18a018" stroke-width="1.1"/>
<path d="M583.8,11 L589.1999999999999,11 L586.5,14 Z" fill="#000"/>
<rect x="595" y="0" width="1" height="24" fill="#a0a0a0" shape-rendering="crispEdges"/><rect x="596" y="0" width="1" height="24" fill="#fbfbfb" shape-rendering="crispEdges"/>
<g shape-rendering="crispEdges"><rect x="599" y="2" width="3" height="1" fill="#a8a8a8"/><rect x="599" y="4" width="3" height="1" fill="#a8a8a8"/><rect x="599" y="6" width="3" height="1" fill="#a8a8a8"/><rect x="599" y="8" width="3" height="1" fill="#a8a8a8"/><rect x="599" y="10" width="3" height="1" fill="#a8a8a8"/><rect x="599" y="12" width="3" height="1" fill="#a8a8a8"/><rect x="599" y="14" width="3" height="1" fill="#a8a8a8"/><rect x="599" y="16" width="3" height="1" fill="#a8a8a8"/><rect x="599" y="18" width="3" height="1" fill="#a8a8a8"/><rect x="599" y="20" width="3" height="1" fill="#a8a8a8"/></g>
<g shape-rendering="crispEdges"><rect x="605" y="0" width="25" height="22" fill="#f9f9f9"/><rect x="605" y="0" width="25" height="1" fill="#a0a0a0"/><rect x="605" y="0" width="1" height="22" fill="#a0a0a0"/></g>
<path d="M613,4.8 L613,16.4 L615.8,13.8 L618.3,18.8 L620.2,17.9 L617.8,13 L621.4,12.6 Z" fill="#444"/>
<g shape-rendering="crispEdges"><rect x="638" y="12" width="6" height="1" fill="#444"/><rect x="647" y="12" width="6" height="1" fill="#444"/><rect x="645" y="5" width="1" height="6" fill="#444"/><rect x="645" y="14" width="1" height="6" fill="#444"/><rect x="645" y="12" width="1" height="1" fill="#444"/></g>
<rect x="662" y="1" width="1" height="21" fill="#a0a0a0" shape-rendering="crispEdges"/>
<g shape-rendering="crispEdges"><rect x="679" y="6" width="1" height="13" fill="#444"/><rect x="702" y="12" width="12" height="1" fill="#444"/></g>
<path d="M729.5,19 L742,6.7" stroke="#444" stroke-width="1.1"/>
<path d="M756,14 L768,6 M757,18 L770,9.5 M760,18.5 L762,9 M764,16.5 L766,6.5 M767.5,13 L768.5,4.5" stroke="#444" stroke-width="0.9" fill="none"/>
<text x="766.8" y="20.5" font-size="6.5" fill="#333" font-weight="bold" textLength="4.5" lengthAdjust="spacingAndGlyphs">E</text>
<g shape-rendering="crispEdges"><line x1="785" y1="5.5" x2="798" y2="5.5" stroke="#555" stroke-width="1" stroke-dasharray="1,1"/><line x1="785" y1="8.5" x2="798" y2="8.5" stroke="#555" stroke-width="1" stroke-dasharray="1,1"/><line x1="785" y1="12.5" x2="798" y2="12.5" stroke="#555" stroke-width="1" stroke-dasharray="1,1"/><line x1="785" y1="16.5" x2="798" y2="16.5" stroke="#555" stroke-width="1" stroke-dasharray="1,1"/></g>
<text x="795" y="20.5" font-size="6.5" fill="#333" font-weight="bold" textLength="4" lengthAdjust="spacingAndGlyphs">F</text>
<text x="815.3" y="17" font-size="12.5" fill="#555" font-weight="bold" textLength="9" lengthAdjust="spacingAndGlyphs">A</text>
<rect x="842.5" y="6.5" width="11" height="12" fill="none" stroke="#555" stroke-width="1" stroke-dasharray="1,1" shape-rendering="crispEdges"/>
<text x="844" y="16.5" font-size="11" fill="#555" font-weight="bold" textLength="7.5" lengthAdjust="spacingAndGlyphs">T</text>
<path d="M869,9 L872.5,6 L876,9 L872.5,11 Z M876,16 L879.5,13.5 L883,16 L879.5,19 Z" fill="#444"/>
<path d="M870.5,13.5 L872.5,15.5 L877.5,9.5" fill="none" stroke="#444" stroke-width="1.2"/>
<path d="M889.8,11 L895.1999999999999,11 L892.5,14 Z" fill="#000"/>
<rect x="901" y="0" width="1" height="24" fill="#a0a0a0" shape-rendering="crispEdges"/><rect x="902" y="0" width="1" height="24" fill="#fbfbfb" shape-rendering="crispEdges"/>
<g shape-rendering="crispEdges"><rect x="905" y="2" width="3" height="1" fill="#a8a8a8"/><rect x="905" y="4" width="3" height="1" fill="#a8a8a8"/><rect x="905" y="6" width="3" height="1" fill="#a8a8a8"/><rect x="905" y="8" width="3" height="1" fill="#a8a8a8"/><rect x="905" y="10" width="3" height="1" fill="#a8a8a8"/><rect x="905" y="12" width="3" height="1" fill="#a8a8a8"/><rect x="905" y="14" width="3" height="1" fill="#a8a8a8"/><rect x="905" y="16" width="3" height="1" fill="#a8a8a8"/><rect x="905" y="18" width="3" height="1" fill="#a8a8a8"/><rect x="905" y="20" width="3" height="1" fill="#a8a8a8"/></g>
<g shape-rendering="crispEdges"><rect x="1051" y="0" width="25" height="22" fill="#f9f9f9"/><rect x="1051" y="0" width="25" height="1" fill="#a0a0a0"/><rect x="1051" y="0" width="1" height="22" fill="#a0a0a0"/></g>
<text x="916.4" y="16" font-size="9.7" fill="#444" font-weight="normal" textLength="12.8" lengthAdjust="spacingAndGlyphs">M1</text>
<text x="944.8" y="16" font-size="9.7" fill="#444" font-weight="normal" textLength="12.5" lengthAdjust="spacingAndGlyphs">M5</text>
<text x="970.6" y="16" font-size="9.7" fill="#444" font-weight="normal" textLength="17.6" lengthAdjust="spacingAndGlyphs">M15</text>
<text x="998.9" y="16" font-size="9.7" fill="#444" font-weight="normal" textLength="17.3" lengthAdjust="spacingAndGlyphs">M30</text>
<text x="1029.9" y="16" font-size="9.7" fill="#444" font-weight="normal" textLength="11.2" lengthAdjust="spacingAndGlyphs">H1</text>
<text x="1056.5" y="16" font-size="9.7" fill="#444" font-weight="normal" textLength="12.5" lengthAdjust="spacingAndGlyphs">H4</text>
<text x="1085.9" y="16" font-size="9.7" fill="#444" font-weight="normal" textLength="11.2" lengthAdjust="spacingAndGlyphs">D1</text>
<text x="1112.9" y="16" font-size="9.7" fill="#444" font-weight="normal" textLength="14.2" lengthAdjust="spacingAndGlyphs">W1</text>
<text x="1139.6" y="16" font-size="9.7" fill="#444" font-weight="normal" textLength="14.4" lengthAdjust="spacingAndGlyphs">MN</text>
<rect x="1163" y="0" width="1" height="24" fill="#a0a0a0" shape-rendering="crispEdges"/><rect x="1164" y="0" width="1" height="24" fill="#fbfbfb" shape-rendering="crispEdges"/>
<circle cx="1632.5" cy="8.5" r="3.6" fill="#f4f8ff" stroke="#2858c8" stroke-width="1.6"/>
<path d="M1629.8,11.5 L1624.5,16.5" stroke="#2858c8" stroke-width="2.2" stroke-linecap="round"/>
<path d="M1661,4.5 a5.5,4.3 0 1 1 7.5,7.5 l1.5,3 l-4,-2 a6,4.3 0 0 1 -5,-8.5 Z" fill="#e4e6f0" stroke="#888" stroke-width="0.9"/>
<ellipse cx="1656.5" cy="12" rx="5.2" ry="3.9" fill="#e4e6f0" stroke="#777" stroke-width="0.9"/>
<path d="M1654,15 L1653,18.5 L1657.5,15.7 Z" fill="#e4e6f0" stroke="#777" stroke-width="0.9"/>
</svg></body></html>
